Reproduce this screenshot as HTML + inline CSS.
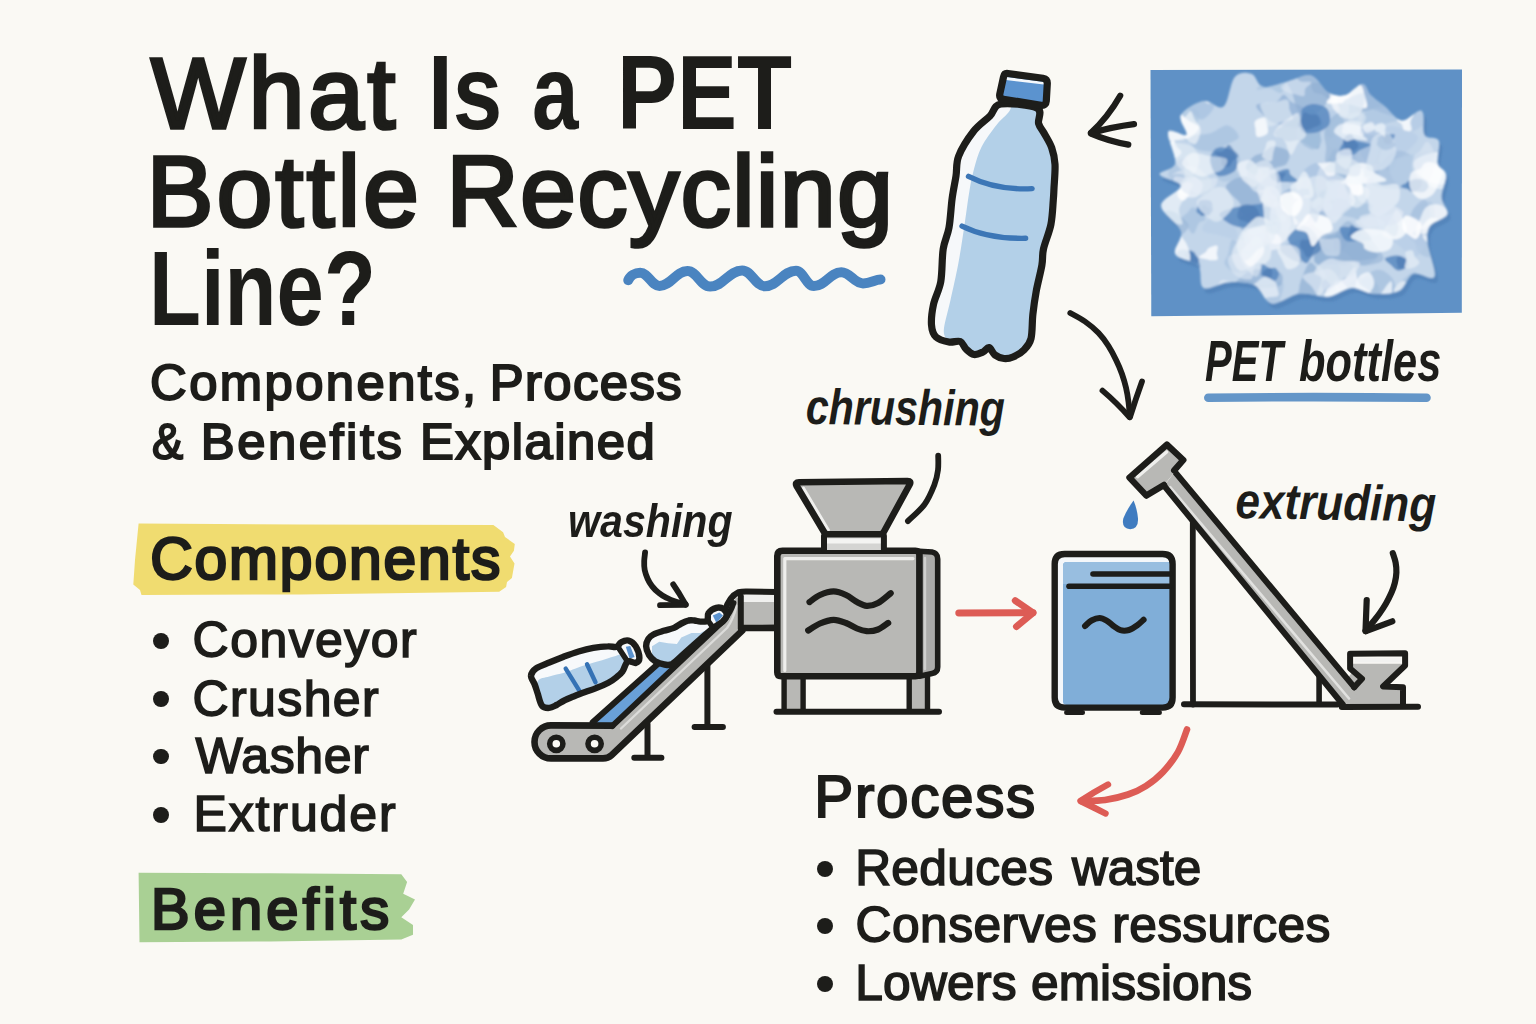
<!DOCTYPE html>
<html lang="en">
<head>
<meta charset="utf-8">
<title>What Is a PET Bottle Recycling Line? Components, Process &amp; Benefits Explained</title>
<style>
*{box-sizing:border-box;margin:0;padding:0}
html,body{width:1536px;height:1024px;overflow:hidden;background:#faf9f4}
body{position:relative;font-family:"Liberation Sans", Arial, Helvetica, sans-serif;color:#1d1d1a}
#art{position:absolute;left:0;top:0;width:1536px;height:1024px;display:block}
h1,h2,p,ul,li{font-weight:inherit;font-size:inherit;list-style:none}
.w{position:absolute;display:block;white-space:nowrap;line-height:1;transform-origin:0 0;color:#1d1d1a}
.dot{position:absolute;display:block;border-radius:50%;background:#1d1d1a}
.title .w{font-size:105.2px;font-weight:700;font-style:normal}
.sub .w{font-size:50.8px;font-weight:400;font-style:normal;-webkit-text-stroke:2px #1d1d1a}
.hc .w{font-size:58.7px;font-weight:400;font-style:normal;-webkit-text-stroke:2.6px #1d1d1a}
.lc .w{font-size:50px;font-weight:400;font-style:normal;-webkit-text-stroke:1.6px #1d1d1a}
.hb .w{font-size:57.8px;font-weight:400;font-style:normal;-webkit-text-stroke:2.6px #1d1d1a}
.hp .w{font-size:58.4px;font-weight:400;font-style:normal;-webkit-text-stroke:2px #1d1d1a}
.lp .w{font-size:49.7px;font-weight:400;font-style:normal;-webkit-text-stroke:1.6px #1d1d1a}
#lb-crush .w{font-size:50px;font-weight:700;font-style:italic}
#lb-wash .w{font-size:46px;font-weight:700;font-style:italic}
#lb-extr .w{font-size:50px;font-weight:700;font-style:italic}
#lb-pet .w{font-size:57px;font-weight:700;font-style:italic}
</style>
</head>
<body>
<svg id="art" viewBox="0 0 1536 1024" width="1536" height="1024" aria-hidden="true">
<g id="highlights"><path d="M138.6,523.4L300,524.6L493.4,525L503.1,532.2L505,537.1L514.8,543.9L513.9,550.8L510,556.6L514.5,563.5L511.9,578.1L507,582L506.1,586.9L499.2,591.8L300,594.5L141.5,594.9L140,590L133.3,584.5L135,560Z" fill="#f0dc70"/><path d="M138.6,872.7L270,873.2L401.3,874.2L407.1,882L403.2,893.8L415,899.6L409.1,909.4L401.3,917.2L413,925L413,934.8L401.3,939.6L270,941.4L139.5,942.2Z" fill="#a9d094"/></g>
<g id="wave"><path d="M628.3,280.2C630.1,275.8 635.2,272.8 640.2,272.8C648.3,272.8 651.4,285.9 659.5,285.9C671.2,285.9 675.7,271.1 687.4,271.1C696.9,271.1 700.5,286.6 710.1,286.6C723.5,286.6 728.7,270.4 742.2,270.4C751.7,270.4 755.3,286.2 764.8,286.2C777.9,286.2 782.9,270.8 796,270.8C803.5,270.8 806.4,286.1 813.9,286.1C825.4,286.1 829.8,272.3 841.3,272.3C850.4,272.3 853.9,283.4 863,283.4C870.3,283.4 875.3,279.5 880.5,279.5" fill="none" stroke="#4a84c0" stroke-width="10" stroke-linecap="round" stroke-linejoin="round"/></g>
<g id="photo"><defs><filter id="soft" x="-5%" y="-5%" width="110%" height="110%"><feGaussianBlur stdDeviation="0.9"/></filter><clipPath id="pc"><path d="M1150.5,70L1462,69.4L1461.8,312.8L1151.3,316.3Z"/></clipPath></defs><path d="M1150.5,70L1462,69.4L1461.8,312.8L1151.3,316.3Z" fill="#5f91c6"/><g clip-path="url(#pc)"><g filter="url(#soft)"><path d="M1234.8,76.9C1239.5,71.5 1247.1,72.4 1251.8,74.1C1256.5,75.7 1257,85.6 1263.1,86.8C1269.3,88 1280.6,83 1288.6,81.2C1296.6,79.3 1304.7,73.6 1311.3,75.5C1317.9,77.4 1322.6,89.2 1328.3,92.5C1333.9,95.8 1339.6,96.7 1345.3,95.3C1350.9,93.9 1358,84 1362.3,84C1366.5,84 1367,91.5 1370.8,95.3C1374.5,99.1 1379.7,102.4 1384.9,106.6C1390.1,110.9 1395.8,120.1 1401.9,120.8C1408,121.5 1418,108.5 1421.7,110.9C1425.5,113.3 1421.7,130 1424.6,135C1427.4,139.9 1436.6,135.9 1438.7,140.6C1440.9,145.4 1436.1,157.6 1437.3,163.3C1438.5,169 1445.1,169 1445.8,174.6C1446.5,180.3 1441.3,190.7 1441.6,197.3C1441.8,203.9 1449.1,209.6 1447.2,214.3C1445.3,219 1433.5,220.9 1430.2,225.6C1426.9,230.3 1426.7,234.1 1427.4,242.6C1428.1,251.1 1436.8,271.4 1434.5,276.6C1432.1,281.8 1419.1,271.4 1413.2,273.8C1407.3,276.1 1405.7,287.4 1399.1,290.8C1392.5,294.1 1381.6,294.1 1373.6,293.6C1365.6,293.1 1358.5,287.4 1350.9,287.9C1343.4,288.4 1336.8,295.5 1328.3,296.4C1319.8,297.4 1309.4,292.4 1299.9,293.6C1290.5,294.8 1279.2,304.9 1271.6,303.5C1264.1,302.1 1261.7,288.6 1254.6,285.1C1247.5,281.5 1237.6,281.8 1229.1,282.3C1220.6,282.7 1208.8,290.8 1203.6,287.9C1198.4,285.1 1202.7,270.9 1198,265.3C1193.3,259.6 1178.2,259.6 1175.3,253.9C1172.5,248.3 1183.3,239.3 1181,231.3C1178.6,223.2 1161.2,213.3 1161.2,205.8C1161.2,198.2 1181.2,191.1 1181,186C1180.7,180.8 1160.7,178.4 1159.7,174.6C1158.8,170.8 1173.9,170.4 1175.3,163.3C1176.7,156.2 1166.3,136.9 1168.2,132.1C1170.1,127.4 1184.5,137.8 1186.6,135C1188.8,132.1 1178.2,120.8 1181,115.1C1183.8,109.5 1196.6,102.4 1203.6,101C1210.7,99.6 1218.3,110.7 1223.5,106.6C1228.7,102.6 1230.1,82.3 1234.8,76.9Z" fill="#4a7bb2" fill-opacity="0.55" transform="translate(3,5)"/><path d="M1234.8,76.9C1239.5,71.5 1247.1,72.4 1251.8,74.1C1256.5,75.7 1257,85.6 1263.1,86.8C1269.3,88 1280.6,83 1288.6,81.2C1296.6,79.3 1304.7,73.6 1311.3,75.5C1317.9,77.4 1322.6,89.2 1328.3,92.5C1333.9,95.8 1339.6,96.7 1345.3,95.3C1350.9,93.9 1358,84 1362.3,84C1366.5,84 1367,91.5 1370.8,95.3C1374.5,99.1 1379.7,102.4 1384.9,106.6C1390.1,110.9 1395.8,120.1 1401.9,120.8C1408,121.5 1418,108.5 1421.7,110.9C1425.5,113.3 1421.7,130 1424.6,135C1427.4,139.9 1436.6,135.9 1438.7,140.6C1440.9,145.4 1436.1,157.6 1437.3,163.3C1438.5,169 1445.1,169 1445.8,174.6C1446.5,180.3 1441.3,190.7 1441.6,197.3C1441.8,203.9 1449.1,209.6 1447.2,214.3C1445.3,219 1433.5,220.9 1430.2,225.6C1426.9,230.3 1426.7,234.1 1427.4,242.6C1428.1,251.1 1436.8,271.4 1434.5,276.6C1432.1,281.8 1419.1,271.4 1413.2,273.8C1407.3,276.1 1405.7,287.4 1399.1,290.8C1392.5,294.1 1381.6,294.1 1373.6,293.6C1365.6,293.1 1358.5,287.4 1350.9,287.9C1343.4,288.4 1336.8,295.5 1328.3,296.4C1319.8,297.4 1309.4,292.4 1299.9,293.6C1290.5,294.8 1279.2,304.9 1271.6,303.5C1264.1,302.1 1261.7,288.6 1254.6,285.1C1247.5,281.5 1237.6,281.8 1229.1,282.3C1220.6,282.7 1208.8,290.8 1203.6,287.9C1198.4,285.1 1202.7,270.9 1198,265.3C1193.3,259.6 1178.2,259.6 1175.3,253.9C1172.5,248.3 1183.3,239.3 1181,231.3C1178.6,223.2 1161.2,213.3 1161.2,205.8C1161.2,198.2 1181.2,191.1 1181,186C1180.7,180.8 1160.7,178.4 1159.7,174.6C1158.8,170.8 1173.9,170.4 1175.3,163.3C1176.7,156.2 1166.3,136.9 1168.2,132.1C1170.1,127.4 1184.5,137.8 1186.6,135C1188.8,132.1 1178.2,120.8 1181,115.1C1183.8,109.5 1196.6,102.4 1203.6,101C1210.7,99.6 1218.3,110.7 1223.5,106.6C1228.7,102.6 1230.1,82.3 1234.8,76.9Z" fill="#c3d6ea"/><clipPath id="sc"><path d="M1234.8,76.9C1239.5,71.5 1247.1,72.4 1251.8,74.1C1256.5,75.7 1257,85.6 1263.1,86.8C1269.3,88 1280.6,83 1288.6,81.2C1296.6,79.3 1304.7,73.6 1311.3,75.5C1317.9,77.4 1322.6,89.2 1328.3,92.5C1333.9,95.8 1339.6,96.7 1345.3,95.3C1350.9,93.9 1358,84 1362.3,84C1366.5,84 1367,91.5 1370.8,95.3C1374.5,99.1 1379.7,102.4 1384.9,106.6C1390.1,110.9 1395.8,120.1 1401.9,120.8C1408,121.5 1418,108.5 1421.7,110.9C1425.5,113.3 1421.7,130 1424.6,135C1427.4,139.9 1436.6,135.9 1438.7,140.6C1440.9,145.4 1436.1,157.6 1437.3,163.3C1438.5,169 1445.1,169 1445.8,174.6C1446.5,180.3 1441.3,190.7 1441.6,197.3C1441.8,203.9 1449.1,209.6 1447.2,214.3C1445.3,219 1433.5,220.9 1430.2,225.6C1426.9,230.3 1426.7,234.1 1427.4,242.6C1428.1,251.1 1436.8,271.4 1434.5,276.6C1432.1,281.8 1419.1,271.4 1413.2,273.8C1407.3,276.1 1405.7,287.4 1399.1,290.8C1392.5,294.1 1381.6,294.1 1373.6,293.6C1365.6,293.1 1358.5,287.4 1350.9,287.9C1343.4,288.4 1336.8,295.5 1328.3,296.4C1319.8,297.4 1309.4,292.4 1299.9,293.6C1290.5,294.8 1279.2,304.9 1271.6,303.5C1264.1,302.1 1261.7,288.6 1254.6,285.1C1247.5,281.5 1237.6,281.8 1229.1,282.3C1220.6,282.7 1208.8,290.8 1203.6,287.9C1198.4,285.1 1202.7,270.9 1198,265.3C1193.3,259.6 1178.2,259.6 1175.3,253.9C1172.5,248.3 1183.3,239.3 1181,231.3C1178.6,223.2 1161.2,213.3 1161.2,205.8C1161.2,198.2 1181.2,191.1 1181,186C1180.7,180.8 1160.7,178.4 1159.7,174.6C1158.8,170.8 1173.9,170.4 1175.3,163.3C1176.7,156.2 1166.3,136.9 1168.2,132.1C1170.1,127.4 1184.5,137.8 1186.6,135C1188.8,132.1 1178.2,120.8 1181,115.1C1183.8,109.5 1196.6,102.4 1203.6,101C1210.7,99.6 1218.3,110.7 1223.5,106.6C1228.7,102.6 1230.1,82.3 1234.8,76.9Z"/></clipPath><g clip-path="url(#sc)"><path d="M1302.9,220.1C1294.8,222.1 1284.9,223.3 1277.4,221.2C1269.8,219.1 1257.5,211.7 1257.6,207.4C1257.8,203.1 1272.6,198.7 1278.4,195.5C1284.3,192.3 1288.1,187.9 1292.6,188.1C1297.2,188.2 1300.4,192.7 1305.9,196.3C1311.4,199.8 1326.2,205.2 1325.7,209.2C1325.2,213.2 1310.9,218.1 1302.9,220.1Z" fill="#8eaed3" fill-opacity="0.61"/><path d="M1335,70.3C1338.8,67.8 1354.3,74.4 1360.4,76.5C1366.4,78.5 1366.3,78.9 1371.4,82.6C1376.6,86.2 1391.8,93.5 1391.3,98.1C1390.8,102.8 1376.5,108.4 1368.3,110.6C1360.1,112.8 1347.2,114.7 1342.1,111.5C1336.9,108.3 1338.4,98.3 1337.2,91.4C1336.1,84.5 1331.1,72.8 1335,70.3Z" fill="#8eaed3" fill-opacity="0.68"/><path d="M1322.3,113.8C1325.2,112.2 1328,110.8 1331.9,110.3C1335.8,109.9 1344.3,109.2 1345.7,111.2C1347,113.2 1341,119.5 1340,122.4C1339.1,125.3 1341,126 1340.1,128.5C1339.3,131 1337.8,136.5 1335,137.4C1332.2,138.4 1325.6,136 1323.5,134C1321.3,132.1 1323.5,128.3 1322,125.9C1320.5,123.5 1314.4,121.5 1314.5,119.5C1314.5,117.5 1319.4,115.3 1322.3,113.8Z" fill="#b7cde6" fill-opacity="0.62"/><path d="M1201.6,119.6C1197.3,119.8 1191.7,111.7 1188.2,108.6C1184.8,105.4 1180.4,103.8 1180.9,100.7C1181.4,97.6 1186.7,90.8 1191.2,90.1C1195.7,89.3 1204.2,93.3 1208,96.2C1211.8,99.1 1215,103.4 1213.9,107.3C1212.9,111.2 1205.8,119.4 1201.6,119.6Z" fill="#a9c3e0" fill-opacity="0.79"/><path d="M1236.3,238.9C1233.5,240.2 1223.3,236.1 1217.7,234.8C1212.2,233.4 1204.4,233.3 1202.9,230.8C1201.3,228.3 1204.3,222.3 1208.5,219.8C1212.8,217.3 1223.9,214.4 1228.3,215.5C1232.7,216.7 1233.5,222.9 1234.8,226.8C1236.2,230.7 1239.2,237.5 1236.3,238.9Z" fill="#b7cde6" fill-opacity="0.57"/><path d="M1317.2,295.9C1318,302.1 1326.9,309.9 1326.2,315.5C1325.6,321.2 1317.9,329 1313.3,329.8C1308.8,330.5 1303.8,323.1 1299,319.9C1294.1,316.7 1284.4,315 1284.2,310.5C1284,306 1295.1,297.6 1297.8,292.9C1300.5,288.2 1298.4,287.5 1300.4,282.4C1302.5,277.3 1306.8,263.2 1310.3,262.6C1313.8,262 1320.2,273.2 1321.4,278.8C1322.5,284.4 1316.4,289.8 1317.2,295.9Z" fill="#8eaed3" fill-opacity="0.68"/><path d="M1332.9,80.9C1334.9,81.7 1334.8,85.4 1335.4,87.4C1335.9,89.5 1336.8,90.9 1336.1,93.1C1335.4,95.3 1333.4,100.5 1331.1,100.7C1328.7,101 1325.2,96.1 1322.3,94.6C1319.4,93.1 1315.4,93.7 1313.7,91.9C1311.9,90 1310.2,85.1 1311.8,83.6C1313.5,82 1320.1,82.9 1323.6,82.4C1327.1,82 1331,80 1332.9,80.9Z" fill="#8eaed3" fill-opacity="0.54"/><path d="M1332.8,253C1335.2,255.4 1335.8,257.2 1337,260.6C1338.1,264 1341.1,269.9 1339.9,273.6C1338.6,277.3 1332.4,283.6 1329.6,283C1326.8,282.3 1325.7,273.8 1323.1,269.8C1320.5,265.8 1314.3,263.1 1314.2,259.1C1314.1,255.2 1319.5,247.1 1322.6,246.1C1325.7,245.1 1330.4,250.6 1332.8,253Z" fill="#8eaed3" fill-opacity="0.51"/><path d="M1333.1,189.5C1330.3,189 1327,185.7 1325.5,183.2C1324.1,180.6 1324.4,176.7 1324.7,174.1C1324.9,171.5 1326.2,170.4 1327,167.7C1327.9,165 1328.2,158.2 1329.7,157.8C1331.3,157.4 1334.5,163.6 1336.4,165.3C1338.4,167 1339.9,166.4 1341.3,168.2C1342.8,169.9 1345.1,172.7 1345.3,175.7C1345.6,178.7 1344.8,184 1342.8,186.3C1340.7,188.6 1336,190 1333.1,189.5Z" fill="#a9c3e0" fill-opacity="0.63"/><path d="M1326.1,147.1C1325.8,141.6 1323.9,139.3 1324.3,135C1324.8,130.6 1326,124.6 1328.6,121.1C1331.3,117.5 1337.4,112.1 1340.4,113.6C1343.3,115.1 1344.3,125.5 1346.5,130.2C1348.6,134.9 1351.6,136 1353.1,141.8C1354.7,147.7 1357.9,158.8 1355.9,165.1C1353.9,171.3 1346.2,178.9 1341.2,179.4C1336.2,179.8 1328.5,173.3 1326,168C1323.5,162.6 1326.3,152.6 1326.1,147.1Z" fill="#9bb8d9" fill-opacity="0.71"/><path d="M1352.6,192.3C1354.4,191.8 1358.3,200.4 1361.6,202.4C1364.9,204.4 1370.8,202.5 1372.1,204.5C1373.4,206.4 1371.1,211.1 1369.6,214.1C1368,217.1 1365.7,221.9 1362.9,222.5C1360.2,223.1 1356.9,219 1353.1,217.6C1349.4,216.2 1340.6,216 1340.2,213.9C1339.9,211.8 1348.9,208.7 1351,205.1C1353,201.5 1350.8,192.7 1352.6,192.3Z" fill="#a9c3e0" fill-opacity="0.77"/><path d="M1341.2,250.9C1336.8,253.5 1329.2,250.9 1322.1,252.8C1315.1,254.7 1306.1,262.9 1299.2,262.1C1292.2,261.4 1279.4,252.5 1280.2,248.3C1281,244.1 1298.7,240.8 1303.9,236.9C1309,233.1 1307.2,225.7 1310.9,225.1C1314.5,224.5 1319.6,231.5 1325.9,233.5C1332.2,235.5 1346.1,234.2 1348.7,237.1C1351.2,240 1345.6,248.3 1341.2,250.9Z" fill="#9bb8d9" fill-opacity="0.73"/><path d="M1269.5,74.7C1273.2,74.2 1278.3,72.6 1281.2,73.5C1284.1,74.3 1286.3,77.7 1286.9,79.8C1287.5,81.8 1285.8,83.7 1284.7,86C1283.7,88.2 1283.2,92.7 1280.6,93.1C1278.1,93.5 1273.4,88.9 1269.4,88.3C1265.4,87.7 1257.9,90.5 1256.8,89.5C1255.6,88.6 1262.2,84.8 1262.6,82.5C1263,80.3 1258,77.4 1259.1,76.1C1260.3,74.8 1265.9,75.1 1269.5,74.7Z" fill="#a9c3e0" fill-opacity="0.67"/><path d="M1299.2,140.5C1294.2,139.1 1291.6,142.4 1287.5,141.2C1283.3,140.1 1274.6,136.3 1274.3,133.4C1274,130.5 1282.5,126.3 1285.9,123.9C1289.3,121.5 1290.7,121.5 1294.9,119C1299.1,116.5 1306.5,108.4 1311,108.8C1315.6,109.2 1320.5,117.2 1322.1,121.4C1323.6,125.6 1320.9,129.5 1320.2,134.1C1319.6,138.7 1321.5,148 1318,149.1C1314.5,150.2 1304.3,141.8 1299.2,140.5Z" fill="#8eaed3" fill-opacity="0.72"/><path d="M1267.2,219.6C1270.2,222.3 1274.1,225.7 1273.5,228.3C1272.9,230.8 1266.9,233.8 1263.5,234.7C1260.1,235.6 1256.6,234.4 1253.1,233.6C1249.5,232.8 1244.2,232.4 1242,229.9C1239.8,227.3 1237.8,221.3 1240,218.3C1242.2,215.3 1250.8,211.5 1255.3,211.7C1259.8,212 1264.1,216.8 1267.2,219.6Z" fill="#8eaed3" fill-opacity="0.73"/><path d="M1370.2,278.2C1373.4,279.6 1377.5,283.1 1378.6,286.7C1379.6,290.3 1379.1,296.5 1376.4,299.6C1373.8,302.8 1367.4,305.5 1362.7,305.4C1357.9,305.4 1350.4,302.8 1347.9,299.4C1345.5,295.9 1346.1,288.2 1347.9,284.7C1349.8,281.2 1355.3,279.4 1359,278.3C1362.7,277.2 1366.9,276.8 1370.2,278.2Z" fill="#9bb8d9" fill-opacity="0.49"/><path d="M1386.2,127.5C1390.6,124.6 1395.6,126.4 1400.9,128.1C1406.2,129.7 1417.2,133.2 1417.9,137.3C1418.7,141.5 1410.1,148.6 1405.2,153.1C1400.3,157.5 1393.7,165.1 1388.6,163.8C1383.5,162.4 1374.8,151.2 1374.4,145.1C1374,139.1 1381.8,130.3 1386.2,127.5Z" fill="#b7cde6" fill-opacity="0.65"/><path d="M1435.3,98.6C1439.6,97.5 1445.6,96.1 1448.1,97.4C1450.5,98.7 1450.8,104 1450,106.2C1449.1,108.4 1446,109.4 1442.9,110.6C1439.7,111.8 1434.5,114.4 1431.1,113.3C1427.6,112.2 1421.5,106.5 1422.2,104C1422.9,101.6 1431,99.7 1435.3,98.6Z" fill="#a2bedd" fill-opacity="0.68"/><path d="M1196.3,149C1192,146.6 1187.4,139 1189.7,136.3C1192,133.7 1204.1,135.1 1210.4,133.2C1216.8,131.4 1223,124.8 1227.7,125.4C1232.4,126 1239.1,133.6 1238.8,136.9C1238.5,140.1 1229.9,142.5 1226.1,144.8C1222.2,147.2 1220.7,150.4 1215.7,151.1C1210.8,151.8 1200.7,151.5 1196.3,149Z" fill="#a2bedd" fill-opacity="0.63"/><path d="M1321.8,284C1322.1,280.2 1327.4,277.9 1329.7,274.4C1331.9,270.9 1331.9,264.7 1335.5,262.9C1339,261.2 1347.3,261.8 1351,264.1C1354.7,266.3 1356.9,272.2 1357.8,276.4C1358.7,280.7 1359,287.1 1356.5,289.5C1353.9,291.9 1347.4,289.6 1342.7,290.9C1337.9,292.2 1331.7,298.4 1328.2,297.2C1324.7,296 1321.6,287.8 1321.8,284Z" fill="#a2bedd" fill-opacity="0.68"/><path d="M1431.1,302.8C1427.1,301.2 1419.6,297.3 1419.4,293.7C1419.1,290 1424.1,282.9 1429.7,280.6C1435.4,278.3 1448.4,277.1 1453.2,279.7C1458,282.4 1460.2,292.6 1458.6,296.4C1457,300.3 1448.1,302 1443.5,303C1438.9,304.1 1435.2,304.3 1431.1,302.8Z" fill="#b7cde6" fill-opacity="0.54"/><path d="M1357.1,98.9C1355,93.4 1360.6,81.8 1366.4,77.9C1372.3,74 1384.1,74.9 1391.9,75.5C1399.7,76.2 1409.7,77.7 1413.2,81.6C1416.7,85.4 1414.4,92.8 1412.8,98.6C1411.2,104.4 1409.3,114.4 1403.7,116.5C1398,118.6 1386.7,114.3 1379,111.4C1371.2,108.4 1359.1,104.5 1357.1,98.9Z" fill="#9bb8d9" fill-opacity="0.64"/><path d="M1333,244.1C1333,240.8 1342.4,235.4 1347.4,234C1352.5,232.6 1358.9,234.3 1363.3,235.8C1367.6,237.3 1371.3,239.4 1373.8,242.9C1376.3,246.5 1380.5,253.2 1378.2,257C1375.8,260.7 1364.8,266.2 1359.7,265.7C1354.5,265.2 1351.7,257.4 1347.3,253.8C1342.8,250.2 1333,247.4 1333,244.1Z" fill="#a2bedd" fill-opacity="0.55"/><path d="M1383.4,292.7C1384.5,288.1 1392.3,287.7 1397.6,284.3C1402.9,280.8 1411.6,270.5 1415.3,272.1C1419.1,273.6 1421.1,287.6 1420.3,293.4C1419.4,299.2 1415.1,303.8 1410.2,306.9C1405.3,309.9 1395.5,314.2 1391,311.8C1386.6,309.5 1382.3,297.3 1383.4,292.7Z" fill="#a2bedd" fill-opacity="0.62"/><path d="M1320.1,206.4C1316.5,204.9 1315.4,199.6 1312.7,196.7C1309.9,193.8 1305.4,192.9 1303.6,189C1301.8,185.1 1299.8,177.8 1301.9,173.5C1304,169.1 1311.4,163.3 1316.3,163C1321.2,162.7 1327.8,168.4 1331.4,171.5C1335,174.6 1337.1,178.4 1337.9,181.8C1338.8,185.2 1337,188.1 1336.4,192C1335.9,196 1337.3,203.2 1334.6,205.6C1331.9,208 1323.8,207.9 1320.1,206.4Z" fill="#a9c3e0" fill-opacity="0.78"/><path d="M1417.4,90.2C1420.9,87.9 1428.5,88.6 1432.8,92.2C1437.1,95.8 1443.9,106.7 1443.1,111.8C1442.2,116.9 1433.3,119.3 1427.8,122.5C1422.2,125.7 1412.7,133.7 1410,131C1407.3,128.3 1410.1,113.3 1411.3,106.5C1412.5,99.7 1413.8,92.6 1417.4,90.2Z" fill="#a9c3e0" fill-opacity="0.46"/><path d="M1313.3,119C1315.3,119.7 1316.8,124.8 1318.2,128.5C1319.6,132.3 1322.3,138 1321.6,141.5C1320.9,144.9 1316.4,148.3 1314,149.3C1311.5,150.3 1308.9,148.3 1306.9,147.3C1304.9,146.3 1303.7,145.3 1302,143.5C1300.3,141.6 1297.3,139.2 1296.7,136C1296.2,132.8 1297,126.4 1298.6,124.5C1300.2,122.5 1303.8,125.2 1306.3,124.3C1308.7,123.4 1311.3,118.3 1313.3,119Z" fill="#a2bedd" fill-opacity="0.76"/><path d="M1424.5,240.6C1421,242.5 1410.1,238.3 1407.8,234.5C1405.4,230.7 1409.6,222.2 1410.5,217.9C1411.5,213.5 1411.2,211.5 1413.6,208.4C1415.9,205.4 1421.8,198.9 1424.6,199.7C1427.5,200.4 1430.1,209.2 1430.7,213C1431.4,216.8 1429.7,218.2 1428.6,222.8C1427.6,227.4 1428,238.6 1424.5,240.6Z" fill="#9bb8d9" fill-opacity="0.56"/><path d="M1417.6,184C1413.4,188.2 1403.6,189.1 1395.7,189C1387.9,188.8 1373,187.3 1370.5,183C1368,178.8 1375.8,168.9 1380.7,163.5C1385.5,158.1 1392.8,150.8 1399.5,150.8C1406.2,150.9 1417.7,158.3 1420.7,163.8C1423.7,169.3 1421.7,179.8 1417.6,184Z" fill="#9bb8d9" fill-opacity="0.52"/><path d="M1269,314.7C1266.2,317 1264.7,317.3 1260.9,319C1257.1,320.7 1250.2,327.2 1246.2,324.8C1242.2,322.3 1237.7,311.9 1236.9,304.4C1236.1,297 1237.9,283.6 1241.4,280.1C1245,276.7 1254.2,282.9 1258.2,283.7C1262.2,284.5 1261.4,285.1 1265.6,284.9C1269.7,284.8 1281,279.5 1283,282.9C1285.1,286.3 1280.1,300 1277.8,305.3C1275.5,310.6 1271.8,312.4 1269,314.7Z" fill="#a9c3e0" fill-opacity="0.62"/><path d="M1396.3,153.7C1397.1,158.2 1394.4,168.4 1391.3,170.3C1388.2,172.2 1381.7,166.2 1377.7,165.1C1373.7,163.9 1370.4,165.8 1367.5,163.3C1364.6,160.8 1360,154.1 1360.3,150C1360.7,146 1366.5,140.9 1369.7,139C1372.9,137.1 1376.7,137.8 1379.5,138.5C1382.3,139.3 1383.9,141 1386.7,143.5C1389.5,146.1 1395.6,149.3 1396.3,153.7Z" fill="#a2bedd" fill-opacity="0.57"/><path d="M1313.7,65.2C1319.7,67.8 1330,64.3 1332.9,69C1335.8,73.8 1333.4,86.5 1331.1,93.5C1328.8,100.5 1324.2,107.9 1319,111.2C1313.8,114.4 1304.4,116.1 1300,113.1C1295.5,110 1294.9,99.8 1292.1,93C1289.4,86.2 1282.5,78.7 1283.4,72.1C1284.2,65.6 1292.2,54.8 1297.2,53.6C1302.3,52.4 1307.8,62.6 1313.7,65.2Z" fill="#8eaed3" fill-opacity="0.65"/><path d="M1355.4,262.8C1350.6,262.3 1340.7,266.6 1337.2,262.5C1333.7,258.4 1332.5,245.2 1334.3,238.3C1336.2,231.4 1343.4,221.4 1348.1,220.9C1352.9,220.5 1358.6,232.5 1362.6,235.8C1366.7,239.1 1368.7,236.8 1372.2,240.7C1375.7,244.6 1384.6,254.9 1383.5,259.1C1382.5,263.3 1370.5,265 1365.8,265.6C1361.1,266.3 1360.2,263.3 1355.4,262.8Z" fill="#8eaed3" fill-opacity="0.52"/><path d="M1219.7,157.5C1224.4,156.1 1236.9,155.5 1239.6,157.4C1242.3,159.3 1235.9,165.5 1235.8,168.9C1235.7,172.2 1241,175.3 1238.9,177.4C1236.8,179.5 1227.2,182.1 1223.1,181.4C1219.1,180.8 1216.5,175.9 1214.6,173.3C1212.6,170.8 1210.7,168.7 1211.6,166.1C1212.4,163.4 1215.1,159 1219.7,157.5Z" fill="#a9c3e0" fill-opacity="0.59"/><path d="M1166.1,117.8C1166.9,113 1167.6,104 1170.7,102.1C1173.8,100.2 1180.1,104.6 1184.8,106.3C1189.5,108 1196.9,108.4 1198.7,112.2C1200.5,115.9 1197.3,123.8 1195.6,128.8C1193.9,133.7 1191.5,141.1 1188.5,141.8C1185.4,142.5 1181,134.6 1177.2,132.8C1173.5,131 1167.8,133.7 1165.9,131.2C1164.1,128.7 1165.3,122.7 1166.1,117.8Z" fill="#a9c3e0" fill-opacity="0.54"/><path d="M1346.7,85C1347.6,81.7 1356.1,78.5 1361.6,76.5C1367,74.4 1374.3,72 1379.6,72.6C1385,73.1 1389.7,77.3 1393.6,79.9C1397.6,82.6 1402.8,85.5 1403.3,88.6C1403.8,91.6 1399.9,95.2 1396.8,98.3C1393.7,101.4 1390,106.1 1384.7,107.3C1379.4,108.5 1369.7,107.5 1365,105.6C1360.2,103.6 1359.2,99.2 1356.2,95.8C1353.2,92.4 1345.8,88.2 1346.7,85Z" fill="#9bb8d9" fill-opacity="0.59"/><path d="M1412.9,211C1417.3,206.2 1427.3,199.7 1431.1,201.7C1434.8,203.7 1434.8,216.9 1435.4,223.2C1436,229.5 1437.5,236 1434.9,239.6C1432.2,243.2 1424.2,246.4 1419.2,245C1414.2,243.5 1405.9,236.6 1404.8,230.9C1403.8,225.3 1408.5,215.9 1412.9,211Z" fill="#a9c3e0" fill-opacity="0.45"/><path d="M1380.4,153.9C1378.6,160.1 1382.1,170.6 1377.5,173.9C1372.8,177.3 1356.8,177.7 1352.6,174.1C1348.4,170.5 1353.8,159.6 1352.4,152.5C1351,145.3 1341.8,134.2 1344.4,131.3C1347,128.3 1360.8,133.9 1368,134.7C1375.3,135.6 1385.9,133.4 1388,136.6C1390,139.8 1382.1,147.6 1380.4,153.9Z" fill="#9bb8d9" fill-opacity="0.60"/><path d="M1168.4,177.4C1167.9,173.4 1169.1,168.9 1170.6,166.2C1172,163.5 1174.7,162.8 1177,161.4C1179.4,160.1 1182.7,157.1 1184.8,158.1C1186.9,159.1 1188.1,163.7 1189.4,167.2C1190.6,170.7 1193.2,176 1192.3,179C1191.3,182 1187,183.4 1183.9,185.2C1180.8,187.1 1176.2,191.5 1173.6,190.2C1171,188.9 1168.9,181.4 1168.4,177.4Z" fill="#a9c3e0" fill-opacity="0.57"/><path d="M1428.6,257.2C1425.2,257 1420.2,254.8 1418.1,251.8C1415.9,248.7 1414.3,242 1415.5,238.9C1416.7,235.8 1422.4,234.5 1425.2,233.1C1428,231.6 1430.2,229.7 1432.5,230.1C1434.8,230.4 1436.2,232.6 1439,235C1441.8,237.4 1449.1,241.6 1449.1,244.7C1449,247.7 1442,251.2 1438.6,253.3C1435.2,255.3 1432,257.5 1428.6,257.2Z" fill="#a9c3e0" fill-opacity="0.63"/><path d="M1339.2,113.7C1343,109.2 1349,101.2 1352.2,102.1C1355.4,103.1 1357.7,114.6 1358.3,119.6C1358.9,124.7 1358.3,127.9 1355.7,132.4C1353,136.8 1346.7,147.1 1342.3,146.5C1337.9,145.9 1329.9,134.5 1329.4,129C1328.8,123.5 1335.4,118.1 1339.2,113.7Z" fill="#a9c3e0" fill-opacity="0.45"/><path d="M1347.2,153.6C1350.1,155.8 1351.3,157 1353,160.9C1354.7,164.7 1359.7,173.4 1357.4,176.5C1355.1,179.7 1345.1,180.5 1339.3,179.8C1333.6,179.2 1324.7,176.4 1323,172.8C1321.3,169.2 1326.9,162.3 1329,158.2C1331.2,154.1 1332.9,148.7 1335.9,148C1339,147.2 1344.4,151.5 1347.2,153.6Z" fill="#9bb8d9" fill-opacity="0.57"/><path d="M1224.6,263.8C1223.6,260.8 1226.8,258.3 1228.1,254.2C1229.5,250.2 1230,240 1232.7,239.5C1235.4,239 1241.6,248 1244.2,251.1C1246.8,254.2 1247.4,255 1248.2,258.1C1249,261.3 1251.1,267.7 1248.8,270C1246.4,272.3 1238.2,273.1 1234.2,272C1230.2,271 1225.6,266.7 1224.6,263.8Z" fill="#a2bedd" fill-opacity="0.56"/><path d="M1347.8,130.4C1356.1,128.4 1372.1,127.3 1377.1,130.3C1382.2,133.3 1379.5,142.2 1378,148.2C1376.6,154.2 1373.9,165.3 1368.2,166.4C1362.5,167.6 1350.8,159.1 1344,155.1C1337.2,151.1 1326.9,146.6 1327.6,142.4C1328.2,138.3 1339.6,132.4 1347.8,130.4Z" fill="#a9c3e0" fill-opacity="0.56"/><path d="M1234.9,285.1C1233.6,282.9 1240,278.1 1242.7,275.6C1245.3,273.1 1247.5,271.3 1251,270.2C1254.4,269.2 1258.5,269 1263.5,269.5C1268.5,270 1278.1,270.5 1280.9,273.2C1283.7,275.8 1283.3,283.1 1280.3,285.5C1277.2,288 1267.4,287.3 1262.4,287.9C1257.5,288.4 1255.2,289.4 1250.6,288.9C1246,288.5 1236.3,287.3 1234.9,285.1Z" fill="#8eaed3" fill-opacity="0.65"/><path d="M1273.2,146.6C1277.6,146.3 1286.6,148.8 1288.8,151.7C1291,154.6 1288.8,161.3 1286.3,164.1C1283.8,166.9 1278,166.5 1273.8,168.4C1269.6,170.4 1265.7,175.8 1261,175.8C1256.3,175.8 1247.1,171.6 1245.8,168.4C1244.6,165.2 1250.6,159.3 1253.4,156.8C1256.2,154.2 1259.3,154.8 1262.6,153.1C1265.9,151.4 1268.8,146.8 1273.2,146.6Z" fill="#8eaed3" fill-opacity="0.73"/><path d="M1293.8,193.6C1296.4,190 1303.9,184.2 1309.2,184.2C1314.4,184.1 1322.7,189.7 1325.2,193.3C1327.7,196.8 1327,202.9 1324.3,205.6C1321.7,208.3 1314.6,209.3 1309.5,209.4C1304.4,209.5 1296.4,208.7 1293.8,206C1291.2,203.4 1291.3,197.3 1293.8,193.6Z" fill="#a9c3e0" fill-opacity="0.68"/><path d="M1174.1,211.9C1176.7,212.7 1178,214.3 1180.4,216.6C1182.8,218.8 1188.5,222.3 1188.7,225.5C1188.8,228.7 1184,233.6 1181.3,235.5C1178.5,237.4 1175,237.4 1172.2,236.9C1169.4,236.4 1166.5,234.9 1164.5,232.5C1162.5,230.1 1160.1,225.8 1160.2,222.3C1160.2,218.9 1162.6,213.5 1164.9,211.7C1167.3,210 1171.5,211.1 1174.1,211.9Z" fill="#8eaed3" fill-opacity="0.54"/><path d="M1447.8,154.4C1453,158.2 1451.2,171.5 1447.3,177.1C1443.5,182.7 1433.3,186.9 1424.9,188.1C1416.6,189.2 1403,188 1397.2,183.8C1391.4,179.6 1386.8,167.7 1389.9,162.7C1393.1,157.8 1406.6,155.6 1416.2,154.2C1425.9,152.8 1442.6,150.5 1447.8,154.4Z" fill="#b7cde6" fill-opacity="0.75"/><path d="M1268.8,119.9C1265.2,116.8 1255,108.5 1256.2,105.5C1257.3,102.5 1271.2,103.8 1275.8,102C1280.4,100.2 1281.1,94.8 1283.7,94.8C1286.3,94.8 1288.1,99.7 1291.6,102.1C1295,104.5 1302.7,105.2 1304.6,109.3C1306.5,113.3 1306,123.5 1303.1,126.4C1300.1,129.2 1291.1,126.9 1286.9,126.5C1282.8,126.1 1281.3,125.1 1278.3,124C1275.3,122.9 1272.5,123 1268.8,119.9Z" fill="#8eaed3" fill-opacity="0.69"/><path d="M1296.7,227C1291,228.4 1284.5,235.4 1280.4,233.2C1276.4,231 1272.2,219.8 1272.3,214C1272.4,208.1 1277.9,202.1 1280.9,198.2C1284,194.4 1287,192.1 1290.6,191C1294.2,190 1299.6,189.5 1302.4,191.8C1305.2,194.1 1305.5,199.4 1307.4,204.9C1309.4,210.5 1315.9,221.5 1314.1,225.2C1312.3,228.9 1302.3,225.7 1296.7,227Z" fill="#a9c3e0" fill-opacity="0.56"/><path d="M1268.9,191.7C1271.6,195.1 1274.6,198.9 1275.3,204C1276,209 1276.6,219.4 1272.9,222.1C1269.2,224.9 1258.1,222.2 1253,220.5C1247.9,218.9 1244.4,215.4 1242.2,212.4C1240,209.5 1242.4,207.2 1239.7,202.9C1237,198.6 1225.3,191.2 1225.8,186.8C1226.3,182.5 1237.2,177.2 1242.7,176.6C1248.3,176.1 1254.8,180.9 1259.1,183.4C1263.5,186 1266.2,188.3 1268.9,191.7Z" fill="#8eaed3" fill-opacity="0.75"/><path d="M1325.2,178.5C1327.7,181.4 1326.4,192.8 1324.8,197.2C1323.1,201.7 1318.8,204 1315.4,205.1C1311.9,206.2 1307.4,206.6 1304.1,203.7C1300.8,200.9 1294.9,192.3 1295.8,188.2C1296.7,184.2 1304.6,181.3 1309.5,179.6C1314.4,178 1322.6,175.5 1325.2,178.5Z" fill="#a9c3e0" fill-opacity="0.68"/><path d="M1365,110.7C1365,106.4 1360.2,98.3 1363.1,96.2C1366,94.1 1377.1,97.2 1382.5,98.3C1387.9,99.5 1389.9,100.3 1395.5,103C1401.1,105.7 1416.7,111.3 1416.1,114.4C1415.5,117.6 1398.1,120.3 1391.9,122C1385.7,123.6 1383.7,124.4 1378.9,124.5C1374,124.6 1365.4,124.6 1363.1,122.3C1360.8,120 1365,115 1365,110.7Z" fill="#a2bedd" fill-opacity="0.50"/><path d="M1355.5,197.8C1354,201.5 1352.2,203.5 1348.5,206.9C1344.9,210.2 1339.5,217.1 1333.3,217.8C1327.2,218.4 1315,214.6 1311.5,210.6C1308.1,206.7 1310,197.9 1312.6,194C1315.3,190.2 1323,190 1327.5,187.5C1332.1,185 1334.8,179.4 1339.8,179C1344.7,178.5 1354.5,181.5 1357.2,184.6C1359.8,187.8 1356.9,194.1 1355.5,197.8Z" fill="#8eaed3" fill-opacity="0.48"/><path d="M1424.8,283.8C1427.2,283.1 1428.8,282.3 1430.7,282.6C1432.6,282.8 1434.1,283.7 1436.5,285.3C1439,286.9 1444.5,289.1 1445.3,292.1C1446.2,295.2 1443.8,300.5 1441.6,303.6C1439.4,306.7 1435.6,309.8 1432.1,310.7C1428.5,311.6 1422.2,311.4 1420.3,308.9C1418.3,306.3 1421,299.2 1420.4,295.6C1419.7,291.9 1415.8,288.9 1416.6,287C1417.3,285 1422.5,284.5 1424.8,283.8Z" fill="#8eaed3" fill-opacity="0.48"/><path d="M1420.1,219.8C1424.9,223.8 1427.4,233.1 1426.5,239.4C1425.7,245.6 1419.4,256.1 1414.8,257.1C1410.2,258.2 1403.4,249.3 1398.7,245.4C1394.1,241.6 1387.3,239 1387.1,234C1386.8,229 1391.7,217.9 1397.2,215.6C1402.7,213.2 1415.2,215.9 1420.1,219.8Z" fill="#b7cde6" fill-opacity="0.65"/><path d="M1365.6,299.9C1362.8,296.3 1358.7,291.8 1358.9,287.7C1359,283.5 1362.9,278 1366.5,275C1370.2,272 1376,268.7 1380.7,269.9C1385.3,271 1393,276.8 1394.5,282C1396,287.2 1392.6,296.6 1389.5,301.2C1386.5,305.7 1380.1,309.6 1376.2,309.4C1372.2,309.2 1368.5,303.5 1365.6,299.9Z" fill="#a2bedd" fill-opacity="0.68"/><path d="M1187.7,212.4C1189.3,210.7 1189.9,208.4 1191.6,207.8C1193.3,207.2 1196.1,208 1197.8,208.8C1199.4,209.7 1200.5,211.3 1201.7,213.1C1203,214.8 1205.9,217.8 1205.4,219.4C1205,221.1 1201,220.6 1198.9,223C1196.9,225.4 1195.4,233.5 1193.3,233.8C1191.2,234.2 1188.2,227.8 1186.3,225.2C1184.4,222.6 1181.6,220.4 1181.8,218.2C1182,216.1 1186.1,214.2 1187.7,212.4Z" fill="#9bb8d9" fill-opacity="0.51"/><path d="M1341.7,230.4C1348.9,230.1 1357.6,235.7 1363.5,240C1369.4,244.3 1379.5,252.9 1377.1,256.5C1374.6,260.1 1359.1,260.4 1348.9,261.5C1338.7,262.7 1320.7,266.8 1316,263.6C1311.3,260.4 1316.2,247.9 1320.5,242.3C1324.8,236.8 1334.5,230.8 1341.7,230.4Z" fill="#8eaed3" fill-opacity="0.62"/><path d="M1302.1,131.3C1299.6,129 1301.7,122.6 1301.7,118.8C1301.7,115.1 1300.2,111.5 1302.1,109C1304.1,106.6 1309.1,104 1313.3,104C1317.4,104 1324.6,105.6 1327.3,108.9C1329.9,112.3 1331,120.3 1329.2,124.3C1327.4,128.2 1320.9,131.4 1316.4,132.6C1311.9,133.8 1304.5,133.6 1302.1,131.3Z" fill="#5888bf" fill-opacity="0.85"/><path d="M1301.4,117.9C1302.4,115.7 1303.1,113 1304.6,112.5C1306,111.9 1308.1,114 1310.3,114.5C1312.5,115 1316,113.8 1317.7,115.4C1319.3,116.9 1321.2,121.7 1320.4,123.8C1319.5,125.9 1315.1,126.9 1312.6,127.9C1310.1,128.9 1307.8,130.4 1305.5,130C1303.2,129.5 1299.3,127.3 1298.6,125.3C1297.9,123.3 1300.4,120 1301.4,117.9Z" fill="#4b7bb3" fill-opacity="0.7"/><path d="M1215.2,149.1C1217.9,146.9 1222.9,146.9 1226.3,147.8C1229.7,148.7 1234.1,150.8 1235.6,154.5C1237.2,158.2 1238.4,166.4 1235.6,170C1232.7,173.6 1222.6,177.5 1218.3,175.9C1214.1,174.4 1210.7,165.5 1210.2,161C1209.7,156.5 1212.6,151.3 1215.2,149.1Z" fill="#5888bf" fill-opacity="0.85"/><path d="M1233.8,150.2C1235.5,152.1 1238.8,154.3 1238.6,156.1C1238.5,157.9 1234.4,159.3 1232.8,161.1C1231.2,162.8 1230.9,165.9 1229.1,166.6C1227.3,167.3 1223.5,166.7 1222.2,165.4C1220.9,164.1 1222.7,160.9 1221.4,158.7C1220.1,156.6 1214,153.7 1214.3,152.4C1214.6,151.1 1220.9,152 1223.3,150.7C1225.7,149.4 1226.8,144.8 1228.6,144.8C1230.3,144.7 1232.2,148.4 1233.8,150.2Z" fill="#4b7bb3" fill-opacity="0.7"/><path d="M1343.2,143.1C1344.5,141.3 1345.8,136.4 1348.2,136.1C1350.7,135.7 1354.3,139.6 1358,141.1C1361.7,142.5 1370.2,143.2 1370.5,144.7C1370.8,146.2 1362.9,148.3 1360,150C1357.1,151.6 1356.7,154 1353.3,154.7C1349.9,155.5 1341.9,155.9 1339.8,154.6C1337.7,153.4 1340,149.1 1340.6,147.1C1341.2,145.2 1342,145 1343.2,143.1Z" fill="#5888bf" fill-opacity="0.85"/><path d="M1344.7,147.5C1343.3,145.5 1342.3,141.4 1343.3,139.1C1344.3,136.8 1348.7,133.4 1350.6,133.6C1352.6,133.8 1353.7,138.3 1355,140.4C1356.3,142.5 1359.1,144.5 1358.6,146.3C1358.1,148.1 1354.4,151.2 1352.1,151.4C1349.8,151.6 1346.2,149.6 1344.7,147.5Z" fill="#4b7bb3" fill-opacity="0.7"/><path d="M1423.3,192.2C1420.6,192.9 1415.8,191.1 1412.1,190.2C1408.4,189.2 1401.3,187.8 1401,186.4C1400.8,185 1407.2,182.7 1410.8,181.6C1414.3,180.4 1419.1,178.8 1422.1,179.5C1425,180.2 1428.3,183.5 1428.5,185.7C1428.7,187.8 1426,191.4 1423.3,192.2Z" fill="#5888bf" fill-opacity="0.85"/><path d="M1420.7,186.6C1420,188.4 1418.1,190.1 1416.4,190.9C1414.7,191.8 1411.8,192.4 1410.4,191.6C1408.9,190.9 1408.3,188.2 1407.7,186.5C1407.1,184.9 1406.4,182.9 1406.9,181.8C1407.5,180.8 1409.9,180.7 1411.2,180.2C1412.6,179.7 1413.3,178.7 1414.9,178.7C1416.5,178.7 1420,178.8 1420.9,180.1C1421.9,181.5 1421.5,184.8 1420.7,186.6Z" fill="#4b7bb3" fill-opacity="0.7"/><path d="M1249.2,205.2C1255,204.6 1264.9,202.4 1269.6,203.9C1274.3,205.5 1276.5,211 1277.2,214.5C1277.9,218 1277.5,222.9 1273.9,225C1270.3,227.1 1261.1,226.9 1255.7,227.4C1250.3,227.8 1246.2,228.2 1241.7,227.5C1237.2,226.8 1232.4,225.5 1228.7,223.2C1225,221 1218.6,216.6 1219.6,214C1220.6,211.4 1229.8,209 1234.7,207.6C1239.7,206.1 1243.4,205.8 1249.2,205.2Z" fill="#5888bf" fill-opacity="0.85"/><path d="M1246.7,221.8C1243.6,220.3 1238.4,220.1 1237.6,217.4C1236.7,214.7 1238.9,207.5 1241.7,205.6C1244.5,203.7 1251.2,204.2 1254.2,205.9C1257.2,207.5 1259.4,212.2 1259.7,215.6C1260,219 1258.1,225.2 1255.9,226.3C1253.8,227.3 1249.7,223.2 1246.7,221.8Z" fill="#4b7bb3" fill-opacity="0.7"/><path d="M1306.3,263.3C1303.2,263.5 1298.8,255.4 1295.7,251C1292.6,246.6 1286.3,241 1287.8,236.9C1289.3,232.7 1299.8,225.7 1304.8,226C1309.9,226.2 1316.6,234.4 1318.2,238.3C1319.7,242.2 1316.3,245.4 1314.3,249.6C1312.3,253.7 1309.4,263 1306.3,263.3Z" fill="#5888bf" fill-opacity="0.85"/><path d="M1319.6,241.5C1320.8,243.6 1321.6,247.5 1320.7,249.7C1319.8,251.9 1316.6,253.4 1314.3,254.6C1312.1,255.9 1309,257.8 1307.2,257.1C1305.3,256.5 1304.4,252.7 1303.2,250.8C1301.9,249 1300.1,247.8 1299.9,246C1299.6,244.2 1300.4,241.1 1301.7,240.1C1303,239 1305.7,240.3 1307.7,239.8C1309.6,239.3 1311.6,236.9 1313.5,237.2C1315.5,237.4 1318.4,239.4 1319.6,241.5Z" fill="#4b7bb3" fill-opacity="0.7"/><path d="M1363.5,230.1C1366,232.1 1372.4,237.8 1371.4,239.7C1370.4,241.5 1361.6,240.9 1357.3,241C1353,241.1 1348.4,242.4 1345.6,240.2C1342.7,238 1338.4,229.7 1340.1,227.7C1341.9,225.7 1352.1,227.8 1356,228.2C1359.9,228.6 1360.9,228.2 1363.5,230.1Z" fill="#5888bf" fill-opacity="0.85"/><path d="M1357.7,238.3C1356.3,239 1354.2,239.2 1352.6,238.8C1351,238.4 1348.6,237.1 1348.2,235.8C1347.8,234.5 1349.6,232.8 1350,231C1350.4,229.2 1349.7,225.8 1350.7,225.1C1351.7,224.5 1354.6,226.5 1356.1,227.3C1357.6,228 1358.9,228.5 1359.7,229.7C1360.5,230.8 1361.3,232.9 1361,234.4C1360.7,235.8 1359.1,237.5 1357.7,238.3Z" fill="#4b7bb3" fill-opacity="0.7"/><path d="M1175,259.7C1174.1,257.4 1176.5,251.8 1178.9,250.3C1181.3,248.7 1186.7,249.7 1189.4,250.5C1192.1,251.2 1193.5,253.1 1194.9,254.7C1196.4,256.2 1197.2,257.2 1198.1,259.5C1198.9,261.9 1201.2,266.5 1199.8,268.6C1198.4,270.7 1192.2,273 1189.6,272.3C1187,271.6 1186.6,266.6 1184.2,264.5C1181.7,262.4 1175.9,262.1 1175,259.7Z" fill="#5888bf" fill-opacity="0.85"/><path d="M1198.8,259.1C1199,260.4 1198.1,262.5 1197.1,263.4C1196,264.4 1194.1,264.7 1192.7,264.7C1191.3,264.7 1189.4,264.2 1188.6,263.4C1187.8,262.5 1188.4,261 1187.8,259.6C1187.1,258.1 1184.6,256.3 1184.7,254.8C1184.9,253.3 1187.2,251.2 1188.7,250.7C1190.3,250.2 1192.8,251.1 1194,252C1195.3,252.8 1195.5,254.5 1196.3,255.7C1197.1,256.9 1198.7,257.8 1198.8,259.1Z" fill="#4b7bb3" fill-opacity="0.7"/><path d="M1394.6,134.6C1395.9,135.5 1392.9,138.5 1393,140.4C1393,142.4 1396.3,144.5 1395.1,146.1C1393.9,147.7 1388.5,150.3 1385.6,150.1C1382.6,150 1378.7,146.9 1377.4,145.4C1376,143.8 1377.4,142.1 1377.6,140.7C1377.8,139.4 1377.3,138 1378.5,137.1C1379.7,136.1 1382,135.3 1384.7,134.9C1387.3,134.5 1393.2,133.7 1394.6,134.6Z" fill="#5888bf" fill-opacity="0.85"/><path d="M1385.7,132.9C1387,132.7 1388.7,133.9 1389.6,134.8C1390.5,135.7 1390.8,136.9 1391,138.3C1391.2,139.8 1391.7,142.8 1390.8,143.7C1389.8,144.5 1386.5,144.2 1385.3,143.5C1384,142.8 1384,140.9 1383.4,139.6C1382.9,138.3 1381.5,136.7 1381.8,135.6C1382.2,134.5 1384.4,133 1385.7,132.9Z" fill="#4b7bb3" fill-opacity="0.7"/><path d="M1278,171.5C1281,170.5 1286.1,168.7 1288.2,169.2C1290.3,169.8 1289,172.8 1290.6,174.8C1292.2,176.8 1298.9,180 1297.7,181.2C1296.6,182.5 1287.9,182.2 1283.9,182.1C1279.8,182 1275.8,181.7 1273.6,180.5C1271.3,179.3 1269.6,176.5 1270.3,175C1271,173.5 1275,172.5 1278,171.5Z" fill="#5888bf" fill-opacity="0.85"/><path d="M1274.5,175.6C1274.4,174.5 1275.4,172.3 1276.4,171.9C1277.3,171.5 1278.6,173 1280.2,173.1C1281.8,173.2 1285.5,172 1286,172.7C1286.4,173.5 1283.9,176.5 1283.2,177.7C1282.4,178.9 1282.3,179.2 1281.4,180.1C1280.5,181 1278.6,183.4 1277.8,183.1C1277.1,182.9 1277.3,179.7 1276.7,178.4C1276.1,177.2 1274.5,176.7 1274.5,175.6Z" fill="#4b7bb3" fill-opacity="0.7"/><path d="M1406.8,261.7C1407.3,263.2 1409.2,265.5 1407.7,266.9C1406.2,268.4 1400.7,270.7 1397.9,270.4C1395.1,270.1 1393.1,267.1 1391,265.1C1388.8,263.1 1384.1,260.1 1385,258.5C1385.9,256.9 1393.3,255.5 1396.5,255.4C1399.8,255.3 1403,256.8 1404.7,257.9C1406.4,258.9 1406.3,260.2 1406.8,261.7Z" fill="#5888bf" fill-opacity="0.85"/><path d="M1398.2,268C1397.4,267.3 1397.8,265.3 1397.5,264.2C1397.2,263.1 1396.4,262.5 1396.5,261.3C1396.6,260 1397,257.2 1398.1,256.6C1399.2,256 1401.4,257 1403.1,257.7C1404.7,258.4 1407.2,259.2 1407.7,260.6C1408.3,262 1407.3,264.7 1406.4,266C1405.5,267.3 1403.7,268.1 1402.3,268.4C1400.9,268.7 1399,268.7 1398.2,268Z" fill="#4b7bb3" fill-opacity="0.7"/><path d="M1212,212.1C1210.7,213.6 1207.2,215.8 1204.7,215.8C1202.1,215.8 1198.1,213.7 1196.9,212.2C1195.7,210.7 1197.1,208.6 1197.7,206.7C1198.2,204.7 1198.2,201.6 1200.3,200.6C1202.4,199.7 1208.3,199.8 1210.4,200.8C1212.4,201.9 1212.2,205.1 1212.5,207C1212.7,208.9 1213.3,210.7 1212,212.1Z" fill="#5888bf" fill-opacity="0.85"/><path d="M1205.1,214.4C1203.7,214.4 1201,216.3 1200.6,215.8C1200.1,215.2 1202.3,212.4 1202.4,211.1C1202.6,209.9 1201.3,209.3 1201.5,208.2C1201.7,207.1 1202.7,204.8 1203.6,204.6C1204.5,204.4 1205.9,206.4 1207,207.1C1208.1,207.7 1209.6,207.7 1210.1,208.5C1210.7,209.3 1210.7,210.9 1210.5,212.1C1210.3,213.3 1209.9,215.4 1209,215.8C1208.1,216.2 1206.5,214.4 1205.1,214.4Z" fill="#4b7bb3" fill-opacity="0.7"/><path d="M1333.4,192.8C1334.5,193.4 1335.8,194.4 1336.1,195.5C1336.4,196.5 1336,197.7 1335.2,199.1C1334.4,200.5 1333.1,203.4 1331.2,203.9C1329.3,204.3 1325.8,203 1323.8,201.9C1321.7,200.8 1319.2,198.8 1318.9,197C1318.6,195.2 1320.1,192 1321.9,191.2C1323.6,190.3 1327.4,191.5 1329.4,191.8C1331.3,192.1 1332.3,192.2 1333.4,192.8Z" fill="#5888bf" fill-opacity="0.85"/><path d="M1329.9,192.7C1331.1,192.8 1332.9,193.2 1333.7,194.1C1334.4,194.9 1334.5,196.9 1334.3,198C1334,199.2 1333,200.4 1332.2,200.9C1331.3,201.5 1330.1,201.4 1329,201.3C1328,201.3 1326.5,201.4 1325.7,200.6C1324.8,199.9 1323.8,198.2 1323.9,197C1323.9,195.8 1325.1,194.2 1326,193.5C1327,192.8 1328.6,192.6 1329.9,192.7Z" fill="#4b7bb3" fill-opacity="0.7"/><path d="M1261.2,275.4C1260.3,274.4 1261.4,272.8 1261.3,270.8C1261.3,268.8 1259.8,263.9 1261.1,263.4C1262.4,262.9 1266.8,267 1269.2,267.8C1271.6,268.7 1274,267.2 1275.7,268.2C1277.3,269.2 1279.1,271.9 1279,274C1278.9,276 1277,280.2 1275,280.7C1272.9,281.2 1268.9,277.7 1266.6,276.8C1264.3,275.9 1262.1,276.4 1261.2,275.4Z" fill="#5888bf" fill-opacity="0.85"/><path d="M1272.1,274.1C1271.9,275.7 1271,277.9 1270,278.3C1269,278.7 1267.3,277.4 1266,276.6C1264.8,275.9 1262.7,275 1262.5,273.9C1262.4,272.7 1263.9,270.8 1265.4,269.8C1266.8,268.9 1270,267.5 1271.1,268.2C1272.3,268.9 1272.3,272.4 1272.1,274.1Z" fill="#4b7bb3" fill-opacity="0.7"/><path d="M1423.1,235.3C1419.8,234.7 1413.9,235.5 1412.8,234.6C1411.8,233.6 1415.1,230.6 1416.9,229.6C1418.8,228.7 1421.8,228.9 1424,228.8C1426.2,228.7 1428.5,228.5 1430.1,229.1C1431.6,229.7 1432.8,230.8 1433.3,232.3C1433.8,233.7 1434.7,237.4 1433,237.9C1431.3,238.5 1426.5,235.9 1423.1,235.3Z" fill="#5888bf" fill-opacity="0.85"/><path d="M1424.4,232.5C1424,231.5 1425.4,230 1425.9,229C1426.3,228 1426.2,226.9 1427,226.3C1427.8,225.7 1429.7,224.9 1430.9,225.3C1432,225.8 1433.9,227.6 1434,228.8C1434.2,230.1 1432.8,231.8 1431.8,232.9C1430.8,234 1429.3,235.6 1428,235.5C1426.8,235.5 1424.7,233.6 1424.4,232.5Z" fill="#4b7bb3" fill-opacity="0.7"/><path d="M1185.6,178.1C1186.2,179.3 1187.4,180.8 1187,181.6C1186.5,182.5 1184,182.5 1182.7,183.2C1181.4,183.9 1180.3,185.8 1179.1,185.9C1177.9,185.9 1177,184.3 1175.4,183.4C1173.8,182.5 1170.4,181.8 1169.7,180.5C1169.1,179.1 1170.3,176.3 1171.7,175.2C1173.1,174.1 1176.2,174 1178.2,173.9C1180.1,173.9 1182.1,174.1 1183.3,174.8C1184.6,175.5 1185,177 1185.6,178.1Z" fill="#5888bf" fill-opacity="0.85"/><path d="M1174.9,184.1C1174.4,183.3 1175.6,181.5 1176.1,180.3C1176.6,179.1 1177.1,177.3 1178,177.1C1178.9,176.9 1180.4,178.5 1181.4,178.9C1182.3,179.4 1183.4,179.1 1183.8,179.6C1184.1,180.2 1183.3,181.2 1183.4,182.1C1183.6,183.1 1184.9,184.8 1184.6,185.4C1184.2,186 1182.3,185.9 1181.3,185.8C1180.4,185.8 1180.1,185.3 1179,185C1177.9,184.8 1175.4,184.9 1174.9,184.1Z" fill="#4b7bb3" fill-opacity="0.7"/><path d="M1170,127.6C1167.2,126.8 1166.9,125.2 1164.6,123.2C1162.4,121.3 1156.2,117.7 1156.7,116C1157.3,114.3 1164.4,113.7 1168,112.8C1171.6,112 1175.7,109.9 1178.4,111C1181.1,112 1183.7,116 1184.3,118.9C1184.8,121.9 1184.1,127 1181.7,128.5C1179.3,129.9 1172.8,128.5 1170,127.6Z" fill="#dfe9f4" fill-opacity="0.73"/><path d="M1173.1,139.7C1174.6,139.8 1175.5,144.7 1176.9,146.8C1178.2,148.9 1181.4,150.4 1181.4,152.2C1181.4,154 1178.5,156.7 1176.7,157.6C1175,158.5 1172.6,157.7 1170.8,157.4C1168.9,157 1167.5,156.9 1165.7,155.5C1163.9,154.2 1159.6,150.9 1159.9,149.3C1160.2,147.7 1165.6,147.3 1167.8,145.7C1169.9,144.1 1171.6,139.5 1173.1,139.7Z" fill="#ffffff" fill-opacity="0.84"/><path d="M1249.8,160C1253.1,160.4 1255.6,164.8 1257.7,166.8C1259.7,168.8 1261.5,170 1262,172C1262.6,174 1262.2,176.3 1261,178.9C1259.7,181.4 1257.3,186.5 1254.7,187.1C1252,187.6 1247.3,184 1244.9,182C1242.5,179.9 1241.4,177.9 1240.2,174.9C1239,171.9 1236.1,166.6 1237.7,164.1C1239.3,161.6 1246.5,159.6 1249.8,160Z" fill="#f4f8fc" fill-opacity="0.71"/><path d="M1265.3,117.8C1267.3,118.7 1267.4,123.8 1267.6,126.5C1267.9,129.3 1268.7,132.3 1266.9,134C1265.2,135.7 1259.2,137.8 1257.3,136.8C1255.4,135.9 1255.7,131 1255.4,128.3C1255,125.6 1253.8,122.6 1255.4,120.8C1257.1,119.1 1263.2,116.8 1265.3,117.8Z" fill="#ffffff" fill-opacity="0.80"/><path d="M1360.6,301.7C1357.9,304.3 1355.3,305.5 1351.7,306.8C1348.1,308.2 1341.1,311.9 1338.9,309.8C1336.7,307.7 1339.4,298.7 1338.6,294.1C1337.8,289.5 1333,284.8 1334,282.3C1335.1,279.7 1341.6,281.2 1345,278.7C1348.4,276.2 1352.3,266.7 1354.6,267.3C1356.9,268 1356.4,278.6 1358.6,282.6C1360.9,286.6 1367.8,288.1 1368.1,291.3C1368.5,294.5 1363.4,299.1 1360.6,301.7Z" fill="#f4f8fc" fill-opacity="0.81"/><path d="M1247.6,230.7C1248.2,228.8 1253.9,227.5 1257.4,226.6C1260.9,225.7 1266.6,224.1 1268.7,225.3C1270.8,226.5 1269,231.6 1270.2,233.7C1271.4,235.9 1275.8,236.6 1276,238.3C1276.2,239.9 1273.4,242.8 1271.2,243.6C1269,244.4 1265.7,242.9 1262.8,243C1260,243 1255.6,244.8 1254.1,243.9C1252.6,243.1 1255.1,240 1254,237.8C1252.9,235.6 1247,232.6 1247.6,230.7Z" fill="#e9f0f8" fill-opacity="0.86"/><path d="M1295.1,224.5C1292.7,222.2 1291.6,211.9 1292.3,207.6C1293.1,203.3 1296.6,200.8 1299.5,198.8C1302.3,196.8 1307.6,193.7 1309.3,195.6C1311,197.4 1310.3,205.5 1309.9,209.8C1309.5,214.1 1309.3,218.9 1306.9,221.4C1304.4,223.8 1297.5,226.8 1295.1,224.5Z" fill="#e9f0f8" fill-opacity="0.85"/><path d="M1330.2,286.2C1331.6,285.2 1332.7,284.8 1334.6,284.1C1336.5,283.4 1339.7,281.5 1341.7,282C1343.7,282.4 1345,284.8 1346.6,287C1348.3,289.1 1352.6,293.1 1351.7,294.8C1350.8,296.6 1344.2,296.4 1341.1,297.6C1338,298.8 1335.7,302.2 1333,302.1C1330.3,302 1326.1,299.2 1325,297.2C1323.9,295.1 1325.4,291.8 1326.2,289.9C1327.1,288.1 1328.8,287.1 1330.2,286.2Z" fill="#f4f8fc" fill-opacity="0.81"/><path d="M1303,188.5C1301.1,188.7 1298.6,190.7 1297.5,189.8C1296.4,188.9 1296,185 1296.4,183.2C1296.8,181.3 1298.5,179.9 1299.9,178.8C1301.3,177.7 1303.3,176.2 1305,176.6C1306.7,177 1309.4,179.2 1310,181.2C1310.6,183.2 1309.8,187.4 1308.6,188.6C1307.5,189.8 1304.9,188.3 1303,188.5Z" fill="#f4f8fc" fill-opacity="0.61"/><path d="M1332.3,223.3C1328.8,222 1323.6,212.1 1323,206C1322.5,199.9 1325.3,190.9 1329.1,186.5C1332.8,182.2 1341.2,177.5 1345.5,179.8C1349.9,182.1 1355.4,194.8 1355.1,200.4C1354.9,206.1 1347.7,209.6 1343.9,213.4C1340.1,217.2 1335.7,224.5 1332.3,223.3Z" fill="#e9f0f8" fill-opacity="0.61"/><path d="M1338.4,198C1335.6,197.7 1333,198.2 1331.4,196.9C1329.8,195.6 1329.8,192.7 1328.9,190.3C1328,187.9 1325.2,184 1326.1,182.3C1326.9,180.6 1331.8,180.4 1334.1,180.1C1336.3,179.7 1338,179.7 1339.6,180.3C1341.2,180.8 1342.9,182 1343.9,183.4C1344.9,184.8 1345,186.1 1345.7,188.7C1346.3,191.3 1349.2,197.3 1348,198.9C1346.8,200.4 1341.1,198.3 1338.4,198Z" fill="#e9f0f8" fill-opacity="0.67"/><path d="M1203.9,173.5C1205.9,175.1 1208.7,175.9 1209.9,178.1C1211.1,180.3 1212.1,183.8 1211,186.7C1209.9,189.6 1206.5,194.9 1203.2,195.5C1199.9,196.1 1195.2,192 1191.3,190.5C1187.3,189 1180.7,188.8 1179.6,186.5C1178.5,184.3 1183.7,180.3 1184.6,177C1185.6,173.7 1183.1,168.1 1185.3,166.6C1187.6,165.1 1194.8,166.9 1197.9,168.1C1201,169.2 1201.9,171.8 1203.9,173.5Z" fill="#dfe9f4" fill-opacity="0.52"/><path d="M1243.6,233.1C1245.8,229.7 1256.2,226.2 1260.1,227.6C1264,229 1265.1,237.5 1266.9,241.5C1268.8,245.4 1271.8,247.7 1271.4,251.4C1271,255.1 1267.6,262.7 1264.3,263.7C1261.1,264.6 1254.8,259.6 1251.9,257C1249,254.5 1248.3,252.4 1246.9,248.4C1245.5,244.4 1241.4,236.6 1243.6,233.1Z" fill="#f4f8fc" fill-opacity="0.73"/><path d="M1160.3,197C1162.5,193.1 1166.4,185.3 1170.7,184.4C1175,183.5 1184.7,187.5 1186.1,191.7C1187.5,195.8 1179.7,203.8 1179,209.2C1178.4,214.7 1183.9,222.4 1182.2,224.3C1180.6,226.1 1172.6,221.9 1169.4,220.5C1166.2,219.1 1165.1,218 1163,215.9C1161,213.9 1157.7,211.4 1157.3,208.2C1156.8,205.1 1158,201 1160.3,197Z" fill="#f4f8fc" fill-opacity="0.61"/><path d="M1370.8,302.3C1368.8,302.9 1368.1,304.7 1365.9,305C1363.6,305.3 1358.8,305.4 1357.2,304.3C1355.6,303.2 1355.5,299.9 1356.3,298.4C1357.1,296.8 1360.4,296.5 1362.1,295.1C1363.7,293.8 1364.3,290.8 1366,290.4C1367.8,290.1 1371.3,292.1 1372.7,293.2C1374.1,294.3 1373.6,295.8 1374.4,297.1C1375.3,298.5 1378.6,300.4 1378,301.3C1377.3,302.2 1372.8,301.7 1370.8,302.3Z" fill="#e9f0f8" fill-opacity="0.86"/><path d="M1360.7,122.4C1362,123.6 1360.2,125.6 1360.7,127.8C1361.1,130.1 1364.9,134.7 1363.4,135.7C1362,136.8 1355.4,134.5 1352,134.2C1348.5,133.8 1344.4,134.7 1342.8,133.6C1341.3,132.5 1342.3,129.3 1342.6,127.4C1342.9,125.5 1343,123.3 1344.7,122.2C1346.4,121.1 1350,120.7 1352.6,120.7C1355.3,120.8 1359.3,121.2 1360.7,122.4Z" fill="#f4f8fc" fill-opacity="0.68"/><path d="M1185.6,116.5C1187.4,115 1189.3,110.9 1190.8,111.3C1192.3,111.8 1192.8,116 1194.4,119.1C1196.1,122.2 1200.5,125.6 1200.6,129.8C1200.8,134 1197.9,142.7 1195.4,144.1C1192.9,145.5 1187.8,140.7 1185.7,138.1C1183.7,135.6 1184.1,131.6 1183.1,128.7C1182.2,125.7 1179.5,122.4 1179.9,120.4C1180.3,118.4 1183.8,118 1185.6,116.5Z" fill="#ffffff" fill-opacity="0.56"/><path d="M1331.7,202.4C1332.6,204.2 1332.8,208.4 1330.5,209.9C1328.2,211.3 1320.7,212.1 1317.8,211.3C1314.9,210.5 1313.6,206.8 1313,205.1C1312.4,203.3 1313.3,202.2 1314.2,200.9C1315.1,199.7 1316.5,198 1318.4,197.6C1320.2,197.2 1322.9,197.9 1325.2,198.7C1327.4,199.5 1330.8,200.5 1331.7,202.4Z" fill="#e9f0f8" fill-opacity="0.61"/><path d="M1198.9,163.8C1197.9,167.6 1194.9,175.2 1191.7,175.9C1188.4,176.6 1182.4,170.8 1179.6,168.1C1176.8,165.3 1176,163.5 1174.9,159.5C1173.8,155.5 1170.4,146.7 1172.8,144.3C1175.2,141.9 1185.1,143.5 1189.2,145.1C1193.4,146.6 1196,150.2 1197.6,153.3C1199.2,156.5 1199.9,160.1 1198.9,163.8Z" fill="#e9f0f8" fill-opacity="0.53"/><path d="M1312.6,246.3C1310.1,245.8 1309.6,235.8 1306.8,232.9C1304,230 1296.8,231.1 1296.1,229.2C1295.3,227.2 1300.4,223.5 1302.3,221C1304.3,218.5 1305.3,215.3 1307.8,214.2C1310.4,213.1 1314.1,213.8 1317.5,214.4C1320.9,215.1 1325.7,215.7 1328.2,218.3C1330.7,220.8 1333.6,226.8 1332.5,229.8C1331.3,232.8 1324.9,233.6 1321.5,236.3C1318.2,239.1 1315.1,246.9 1312.6,246.3Z" fill="#ffffff" fill-opacity="0.87"/><path d="M1341.7,150C1344,149.2 1348.9,147.6 1350.5,149.3C1352.2,150.9 1352.2,156.5 1351.6,159.8C1351.1,163 1349.3,167.9 1347.3,168.8C1345.3,169.6 1341.4,166.4 1339.5,164.9C1337.7,163.4 1336.7,161.7 1336.3,159.8C1335.9,157.9 1336,155.3 1336.9,153.6C1337.8,152 1339.5,150.7 1341.7,150Z" fill="#e9f0f8" fill-opacity="0.74"/><path d="M1267.6,175.5C1266.8,177.4 1266.2,177.6 1264.9,178.8C1263.7,179.9 1261.6,182.7 1260.1,182.4C1258.5,182.2 1256,179.2 1255.6,177.3C1255.2,175.4 1256.7,172.9 1257.8,171.3C1258.8,169.6 1260.1,168 1262.1,167.4C1264,166.7 1268.8,166.1 1269.7,167.4C1270.6,168.8 1268.4,173.6 1267.6,175.5Z" fill="#ffffff" fill-opacity="0.66"/><path d="M1412.4,250.5C1413.9,251.3 1413.6,254.5 1414.8,256.5C1416,258.6 1419.7,260.7 1419.4,262.6C1419.2,264.5 1415.8,266.9 1413.4,267.8C1411,268.7 1406.1,269.3 1405,267.9C1403.8,266.4 1406.4,261.7 1406.4,259C1406.5,256.4 1404.5,253.4 1405.5,252C1406.5,250.6 1410.8,249.7 1412.4,250.5Z" fill="#dfe9f4" fill-opacity="0.88"/><path d="M1274.7,187.7C1271.4,190.9 1261.2,193.5 1256.6,192.3C1252,191 1248.2,184.2 1247.1,180.2C1246,176.1 1247.1,171.2 1250.2,167.8C1253.4,164.5 1261.6,159.2 1265.9,160.1C1270.2,160.9 1274.5,168.4 1276,173C1277.4,177.6 1277.9,184.5 1274.7,187.7Z" fill="#dfe9f4" fill-opacity="0.70"/><path d="M1262.6,194.6C1263.8,192.6 1265.8,188.9 1267.5,189C1269.2,189 1271,193.3 1272.6,194.8C1274.2,196.2 1276,195.9 1277.1,197.6C1278.1,199.3 1279.9,203.3 1279,205C1278.1,206.7 1273.7,208 1271.5,207.9C1269.3,207.8 1267.9,205.4 1266,204.2C1264.2,203 1260.9,202.4 1260.3,200.8C1259.8,199.2 1261.4,196.6 1262.6,194.6Z" fill="#ffffff" fill-opacity="0.71"/><path d="M1441.6,184.8C1435.6,185.4 1425.5,180.8 1421,176.8C1416.4,172.9 1411.5,165.3 1414.1,161.2C1416.7,157.1 1429,152.5 1436.5,152.2C1444.1,151.8 1455.9,155.5 1459.3,159.1C1462.8,162.7 1460.2,169.4 1457.2,173.7C1454.3,178 1447.7,184.3 1441.6,184.8Z" fill="#f4f8fc" fill-opacity="0.80"/><path d="M1443.1,101.5C1438.4,101.7 1436.1,105.7 1432.8,105.4C1429.5,105.2 1426.3,102.5 1423.2,99.8C1420.1,97.2 1412.9,91.9 1414.3,89.6C1415.7,87.3 1427.3,86.7 1431.8,86C1436.3,85.4 1437.7,85.8 1441.3,85.7C1444.8,85.6 1449.2,84.2 1452.9,85.4C1456.6,86.6 1462.2,89.6 1463.5,92.8C1464.9,95.9 1464.6,102.8 1461.2,104.2C1457.7,105.7 1447.8,101.3 1443.1,101.5Z" fill="#e9f0f8" fill-opacity="0.60"/><path d="M1188.4,196.1C1187.3,197.7 1184.7,201 1182.8,200.8C1181,200.6 1177.6,197 1177.3,194.7C1177,192.4 1180.1,189 1181.1,187.1C1182.1,185.1 1182.4,183.7 1183.5,182.8C1184.7,181.9 1186.5,181.2 1188,181.5C1189.5,181.9 1192.4,183.5 1192.7,185C1192.9,186.6 1190.4,189.1 1189.7,191C1189,192.8 1189.6,194.4 1188.4,196.1Z" fill="#ffffff" fill-opacity="0.82"/><path d="M1363.5,171.2C1364.8,173.7 1362.2,178.9 1362.1,182.5C1362.1,186.2 1364.3,191.3 1363,193.4C1361.6,195.5 1356.3,195.9 1354.1,195C1351.9,194 1351.3,189.9 1349.8,187.8C1348.2,185.7 1345.2,184.5 1344.9,182.3C1344.5,180.1 1346.3,177 1347.8,174.5C1349.4,172 1351.7,168.1 1354.3,167.6C1356.9,167 1362.2,168.7 1363.5,171.2Z" fill="#ffffff" fill-opacity="0.90"/><path d="M1365.9,116.2C1366.5,117.8 1365.1,121.3 1364.1,122.9C1363.1,124.5 1361.7,124.4 1359.9,125.9C1358.1,127.3 1355,132 1353.2,131.6C1351.4,131.2 1349.8,126.3 1349.1,123.6C1348.4,120.9 1347.9,117.2 1349,115.4C1350,113.5 1353.3,112.8 1355.3,112.4C1357.2,112 1358.7,112.3 1360.4,112.9C1362.2,113.5 1365.3,114.5 1365.9,116.2Z" fill="#dfe9f4" fill-opacity="0.52"/><path d="M1264.3,115.5C1262.9,111.7 1258.8,106.1 1260.6,103.9C1262.5,101.6 1270.8,102.8 1275.2,102.1C1279.7,101.4 1284.9,98.4 1287.3,99.7C1289.7,100.9 1288.8,106.5 1289.6,109.7C1290.5,112.8 1293.8,116.6 1292.6,118.6C1291.3,120.6 1285.8,120.4 1281.9,121.7C1278,122.9 1271.9,127.3 1268.9,126.3C1266,125.2 1265.6,119.2 1264.3,115.5Z" fill="#dfe9f4" fill-opacity="0.65"/><path d="M1244.4,253.4C1248.9,253.9 1253.9,256.9 1255.5,259.6C1257,262.3 1254.4,266.2 1253.8,269.5C1253.1,272.7 1253.6,277.5 1251.4,278.9C1249.2,280.3 1243.7,279.2 1240.5,277.9C1237.2,276.6 1233.8,274.8 1231.9,271.3C1229.9,267.8 1226.6,259.9 1228.7,256.9C1230.8,253.9 1239.9,253 1244.4,253.4Z" fill="#dfe9f4" fill-opacity="0.59"/><path d="M1341,137.6C1338.8,136 1334.1,133.7 1334,131.5C1333.8,129.3 1337.1,125.7 1340.1,124.5C1343.1,123.2 1348.4,123.6 1351.9,124C1355.4,124.3 1359.7,125.2 1361.1,126.7C1362.5,128.2 1359.3,130.7 1360.3,133C1361.4,135.2 1368.5,139.2 1367.5,140.3C1366.5,141.3 1357.7,139.2 1354.3,139.3C1350.9,139.5 1349.2,141.6 1347,141.3C1344.8,141 1343.2,139.2 1341,137.6Z" fill="#f4f8fc" fill-opacity="0.74"/><path d="M1263.6,232.2C1267.7,231.2 1271.7,231.8 1274.6,233C1277.5,234.1 1280.7,236.5 1281.2,239.1C1281.7,241.8 1281,247.5 1277.6,249.1C1274.3,250.7 1265.6,250.4 1261,248.8C1256.5,247.1 1250,241.7 1250.4,239C1250.8,236.2 1259.6,233.2 1263.6,232.2Z" fill="#e9f0f8" fill-opacity="0.90"/><path d="M1187,128.8C1186.7,131.6 1187.4,134.5 1186.2,135.6C1185,136.7 1181.6,136.4 1179.8,135.3C1178,134.2 1175,131 1175.1,129C1175.2,127.1 1178.1,125.4 1180.2,123.7C1182.3,122 1186.4,117.9 1187.5,118.7C1188.7,119.6 1187.2,126 1187,128.8Z" fill="#dfe9f4" fill-opacity="0.67"/><path d="M1191.8,153C1196.4,151.8 1204,155.1 1209.8,156C1215.6,157 1224.7,156.7 1226.8,158.9C1228.9,161.1 1224.9,166.9 1222.5,169.4C1220,171.8 1215.6,172.4 1212.1,173.6C1208.7,174.8 1205,176.9 1201.5,176.6C1198.1,176.3 1194.7,174.2 1191.4,172C1188.2,169.8 1182,166.5 1182.1,163.3C1182.1,160.1 1187.2,154.2 1191.8,153Z" fill="#ffffff" fill-opacity="0.50"/><path d="M1416.1,108.2C1415.3,111.7 1412.9,118.5 1410.5,119.1C1408.1,119.7 1403,115.1 1401.6,111.8C1400.2,108.5 1401,102.6 1402.2,99.4C1403.4,96.2 1406.4,92.7 1408.6,92.4C1410.8,92.2 1414.2,95.3 1415.5,97.9C1416.7,100.6 1417,104.6 1416.1,108.2Z" fill="#ffffff" fill-opacity="0.81"/><path d="M1334.6,172.2C1338.5,175.5 1347.9,178.1 1348,181.5C1348.2,185 1339.4,188.2 1335.6,193.1C1331.8,197.9 1328.6,210.6 1325.3,210.4C1322,210.3 1317.4,198 1316,192.2C1314.6,186.3 1315.4,180.5 1316.9,175.3C1318.4,170.2 1321.9,162 1324.9,161.4C1327.8,160.9 1330.8,168.8 1334.6,172.2Z" fill="#dfe9f4" fill-opacity="0.57"/><path d="M1402.9,280.9C1405.8,280.8 1409.7,285.7 1412.1,288.2C1414.4,290.7 1418.2,294.5 1417.1,296C1415.9,297.6 1408.5,297.5 1405.2,297.5C1401.9,297.4 1399,297.1 1397.2,295.6C1395.4,294.2 1393.3,291.3 1394.3,288.8C1395.2,286.4 1399.9,281 1402.9,280.9Z" fill="#ffffff" fill-opacity="0.59"/><path d="M1432,232.2C1426.7,231.8 1417.9,236.7 1416,234.3C1414.1,231.8 1418.8,222.1 1420.7,217.5C1422.5,212.8 1423.8,208.4 1427.2,206.4C1430.6,204.3 1436.8,203.3 1441,205.2C1445.2,207.2 1451.2,212.7 1452.3,218C1453.5,223.3 1451.3,234.6 1447.9,237C1444.5,239.3 1437.3,232.6 1432,232.2Z" fill="#ffffff" fill-opacity="0.66"/><path d="M1324.5,200.9C1320.6,202.3 1314.6,209.5 1312.1,208.2C1309.6,206.9 1310,197.9 1309.5,193.1C1308.9,188.3 1306.8,182.1 1308.6,179.2C1310.4,176.3 1317.1,175.5 1320.3,175.7C1323.6,176 1325.9,178.8 1328.3,180.8C1330.8,182.7 1333.9,184.3 1335.1,187.5C1336.3,190.8 1337.3,198 1335.6,200.2C1333.8,202.4 1328.4,199.6 1324.5,200.9Z" fill="#dfe9f4" fill-opacity="0.75"/><path d="M1241.2,258.3C1241.2,254.4 1243.5,247.2 1246.5,245.5C1249.5,243.8 1255.4,246.7 1259.2,248.3C1262.9,249.9 1268.5,252.4 1269,255.2C1269.6,258 1264.5,261.5 1262.5,265.1C1260.4,268.6 1259.3,275.9 1256.6,276.6C1254,277.2 1249.1,271.8 1246.6,268.7C1244,265.7 1241.3,262.2 1241.2,258.3Z" fill="#e9f0f8" fill-opacity="0.51"/><path d="M1227.4,302.8C1223.3,301.8 1218.2,297.1 1217.2,293.3C1216.3,289.5 1218.4,281.5 1221.8,280.2C1225.3,278.9 1234.2,283.5 1238,285.3C1241.7,287.2 1243.9,288.7 1244.5,291.1C1245.1,293.4 1244.5,297.4 1241.7,299.4C1238.8,301.4 1231.5,303.8 1227.4,302.8Z" fill="#e9f0f8" fill-opacity="0.58"/><path d="M1253.8,263.9C1251.8,267.7 1243.9,271.4 1240.4,270.7C1236.8,270.1 1233.9,263.5 1232.6,260.1C1231.3,256.6 1231.5,253.3 1232.8,249.9C1234.2,246.4 1237.5,239.9 1240.7,239.5C1244,239.1 1250.2,243.6 1252.3,247.6C1254.5,251.7 1255.8,260 1253.8,263.9Z" fill="#e9f0f8" fill-opacity="0.66"/><path d="M1355.8,83.8C1356.3,88 1351.2,91.4 1349.7,96.8C1348.3,102.2 1349.9,114 1347.2,116.1C1344.6,118.2 1336.8,113.3 1333.9,109.4C1331,105.5 1329.1,96.7 1330,92.6C1330.8,88.5 1336.1,88.3 1338.9,84.8C1341.6,81.4 1343.7,71.9 1346.5,71.8C1349.3,71.6 1355.3,79.6 1355.8,83.8Z" fill="#ffffff" fill-opacity="0.66"/><path d="M1271.7,242.8C1269.3,240.2 1267.3,231.2 1268.1,227.1C1268.9,222.9 1273.7,220.4 1276.6,218.1C1279.5,215.9 1282.1,213 1285.6,213.7C1289.2,214.3 1297.3,218.1 1297.8,221.9C1298.4,225.7 1291.4,232.9 1288.9,236.3C1286.3,239.8 1285.2,241.6 1282.3,242.7C1279.5,243.8 1274.1,245.5 1271.7,242.8Z" fill="#ffffff" fill-opacity="0.57"/><path d="M1404.5,222.2C1406,226 1407.5,229.9 1406.1,232.8C1404.6,235.7 1399.8,239.4 1395.7,239.6C1391.7,239.9 1382.8,237.2 1381.7,234.3C1380.6,231.4 1386.6,226.2 1389.1,222.1C1391.6,218 1394.2,209.7 1396.8,209.7C1399.3,209.7 1402.9,218.3 1404.5,222.2Z" fill="#ffffff" fill-opacity="0.78"/><path d="M1281,87.4C1280.8,85.5 1285,83.5 1287,81.4C1289,79.3 1290.6,74.8 1292.9,74.8C1295.1,74.7 1297.3,79.9 1300.4,81.2C1303.4,82.4 1310.4,81 1311.2,82.3C1312.1,83.6 1306.4,86.8 1305.2,89C1304,91.3 1305.7,95.1 1304,96C1302.3,96.8 1297.8,94.7 1295.1,94.2C1292.4,93.6 1290.3,93.8 1287.9,92.7C1285.6,91.6 1281.1,89.2 1281,87.4Z" fill="#dfe9f4" fill-opacity="0.58"/><path d="M1265.7,224.8C1263.7,223 1264.1,215.2 1263.6,211.4C1263.2,207.6 1262.9,205.9 1263.1,202C1263.2,198.1 1262.6,190.6 1264.6,188.2C1266.6,185.8 1272.5,186.1 1275.3,187.6C1278,189 1280.1,194 1281.2,197C1282.2,200.1 1280.6,202.1 1281.6,206C1282.5,209.9 1288,217.8 1287,220.5C1286,223.1 1279.3,221.1 1275.7,221.8C1272.2,222.6 1267.7,226.5 1265.7,224.8Z" fill="#e9f0f8" fill-opacity="0.81"/><path d="M1355.4,179.8C1353.7,178.6 1352.7,177.3 1351.7,175.3C1350.7,173.3 1348,169.8 1349.4,167.8C1350.8,165.7 1356.4,163.4 1360.1,163.1C1363.9,162.8 1369.5,164.4 1371.9,165.9C1374.3,167.5 1372.1,170.2 1374.5,172.6C1376.9,175 1387,178.5 1386.4,180.2C1385.9,182 1375.3,182.7 1371.2,183.1C1367.1,183.5 1364.5,183.1 1361.9,182.5C1359.3,181.9 1357.1,181 1355.4,179.8Z" fill="#f4f8fc" fill-opacity="0.89"/><path d="M1302.7,197.5C1299.7,197.9 1296.8,200.2 1294.8,198.5C1292.7,196.8 1290,190.3 1290.5,187.3C1290.9,184.3 1295.1,183.1 1297.4,180.5C1299.7,177.8 1302.1,171.1 1304.3,171.3C1306.6,171.5 1309.5,177.5 1311,181.7C1312.4,185.8 1314.6,193.6 1313.2,196.2C1311.8,198.8 1305.8,197.2 1302.7,197.5Z" fill="#e9f0f8" fill-opacity="0.82"/><path d="M1278.2,295.8C1276.5,297.3 1272,296.6 1267.6,297.5C1263.2,298.5 1255,302.6 1251.5,301.4C1248,300.2 1245.9,293.5 1246.6,290.5C1247.3,287.4 1252.6,285.4 1255.6,283.1C1258.7,280.9 1261.5,277 1264.8,276.9C1268.1,276.7 1273.2,280.1 1275.2,282.1C1277.3,284 1276.8,286.3 1277.3,288.6C1277.7,290.8 1279.8,294.3 1278.2,295.8Z" fill="#e9f0f8" fill-opacity="0.74"/><path d="M1162.3,242.2C1164.2,237.9 1170.3,231.8 1174.3,231.9C1178.2,232 1183.2,238.1 1185.9,242.7C1188.5,247.4 1190.7,253.8 1190.2,259.7C1189.6,265.5 1186.5,275.4 1182.4,278C1178.4,280.6 1169.2,278.9 1165.9,275.5C1162.6,272.1 1163.4,263.2 1162.8,257.7C1162.2,252.1 1160.4,246.5 1162.3,242.2Z" fill="#f4f8fc" fill-opacity="0.85"/><path d="M1178.8,273C1182.3,273.1 1186,276.6 1188.5,278.5C1191.1,280.5 1193.8,282.7 1193.9,284.8C1194.1,286.8 1191.4,289.6 1189.5,291C1187.5,292.4 1185.4,292.3 1182.2,293.2C1179.1,294.1 1172,297.6 1170.5,296.5C1168.9,295.5 1173.5,289.9 1173,286.9C1172.5,283.8 1166.4,280.4 1167.4,278.1C1168.3,275.8 1175.2,272.9 1178.8,273Z" fill="#f4f8fc" fill-opacity="0.69"/><path d="M1364.5,95.1C1365.5,99 1369.1,106.7 1366,108.1C1362.8,109.5 1352,104.2 1345.4,103.4C1338.9,102.5 1328.4,104.7 1326.8,103C1325.1,101.2 1332.7,95.3 1335.6,92.9C1338.4,90.6 1339.8,90.1 1343.9,88.8C1347.9,87.4 1356.4,83.7 1359.8,84.8C1363.3,85.8 1363.5,91.2 1364.5,95.1Z" fill="#ffffff" fill-opacity="0.87"/><path d="M1421.9,228.7C1422.8,224.8 1427.1,218.8 1431,217.9C1435,216.9 1441.1,220.4 1445.6,223C1450.1,225.6 1458.5,230.2 1458.1,233.4C1457.6,236.7 1448.4,241.4 1443,242.7C1437.7,244 1429.5,243.5 1426,241.2C1422.5,238.9 1421.1,232.6 1421.9,228.7Z" fill="#ffffff" fill-opacity="0.67"/><path d="M1189.6,197.6C1187,197.5 1185.4,196.1 1183.1,194.8C1180.7,193.5 1176.9,192.7 1175.4,189.8C1174,186.8 1172.6,179.1 1174.4,177.2C1176.2,175.2 1182.8,178.1 1186.1,178C1189.4,178 1191.3,175.8 1194,176.7C1196.8,177.7 1201.9,180.8 1202.7,183.9C1203.5,187 1200.9,193.1 1198.7,195.3C1196.5,197.6 1192.2,197.7 1189.6,197.6Z" fill="#ffffff" fill-opacity="0.55"/><path d="M1391.7,297C1391.7,301 1392.2,301.5 1391.2,305.2C1390.3,309 1388.9,318.2 1386,319.5C1383.1,320.8 1375,316.8 1373.9,313.1C1372.8,309.5 1378,301.2 1379.4,297.5C1380.9,293.9 1380.7,294.1 1382.6,291.3C1384.6,288.6 1389.7,280.3 1391.2,281.2C1392.8,282.2 1391.7,293 1391.7,297Z" fill="#e9f0f8" fill-opacity="0.87"/><path d="M1369.8,191.3C1370.4,194.6 1365.7,201.3 1363.3,204C1360.9,206.7 1357.9,207.9 1355.4,207.6C1352.9,207.2 1349.2,204.6 1348.3,202C1347.5,199.3 1349.7,196 1350.1,191.8C1350.6,187.5 1349.4,177.8 1351.1,176.5C1352.7,175.1 1357.1,181.3 1360.2,183.7C1363.4,186.2 1369.3,187.9 1369.8,191.3Z" fill="#ffffff" fill-opacity="0.50"/><path d="M1273.6,134.5C1273.1,131.6 1278.8,126.2 1281.2,123.5C1283.6,120.9 1285.4,120.4 1288.2,118.7C1291,117 1295.6,112 1297.8,113.1C1300.1,114.2 1300.3,121.4 1301.6,125.2C1303,128.9 1306.5,132.5 1305.9,135.4C1305.4,138.3 1301,139.2 1298.4,142.5C1295.9,145.7 1293,155.3 1290.7,155C1288.4,154.8 1287.4,144.3 1284.5,140.9C1281.7,137.5 1274.2,137.4 1273.6,134.5Z" fill="#f4f8fc" fill-opacity="0.58"/><path d="M1250.5,243.3C1249.5,238.5 1245.5,233.5 1246.4,231C1247.3,228.6 1252.6,229.6 1255.8,228.7C1259.1,227.9 1264.8,224 1266.1,226C1267.5,228 1265,236.9 1264.1,240.7C1263.3,244.4 1262.9,245.1 1261,248.3C1259,251.6 1254.2,261.1 1252.4,260.3C1250.7,259.4 1251.5,248.2 1250.5,243.3Z" fill="#f4f8fc" fill-opacity="0.72"/><path d="M1456.5,165.4C1459.6,167.5 1466.2,172 1464.9,174C1463.7,176 1452.6,174.9 1449,177.4C1445.4,179.8 1446.9,187.4 1443.5,188.6C1440.1,189.9 1430.4,187.4 1428.6,184.9C1426.7,182.5 1431.5,176.5 1432.3,173.8C1433.1,171.2 1433.3,171.9 1433.3,169.2C1433.4,166.4 1430.5,158.5 1432.7,157.3C1434.9,156.1 1442.4,160.5 1446.4,161.8C1450.3,163.2 1453.4,163.4 1456.5,165.4Z" fill="#f4f8fc" fill-opacity="0.64"/><path d="M1214.6,98.5C1212,99.8 1210.5,103.6 1208.5,103.7C1206.5,103.7 1203.5,100.2 1202.6,98.6C1201.7,97.1 1202.9,95.8 1203.2,94.5C1203.4,93.2 1203,92.1 1204.3,90.8C1205.5,89.5 1208.9,86.6 1210.9,86.7C1212.9,86.8 1214,90 1216.3,91.5C1218.5,92.9 1224.5,94.5 1224.3,95.7C1224,96.8 1217.2,97.1 1214.6,98.5Z" fill="#dfe9f4" fill-opacity="0.88"/><path d="M1421.7,225.5C1422.3,228.9 1419.2,237.1 1416.9,238.6C1414.6,240.2 1410.3,236.3 1407.9,234.6C1405.5,232.8 1403.1,231.2 1402.5,228.1C1402,225.1 1402.6,217.9 1404.5,216.2C1406.3,214.6 1410.6,216.4 1413.5,218C1416.4,219.5 1421.2,222 1421.7,225.5Z" fill="#ffffff" fill-opacity="0.87"/><path d="M1299.3,249.5C1301,252.9 1300.5,261.3 1298.6,264.6C1296.7,267.9 1290.5,269.9 1287.8,269.2C1285.1,268.5 1284.2,263.8 1282.4,260.4C1280.7,257 1276.4,251.4 1277.4,248.8C1278.4,246.1 1284.8,244.6 1288.4,244.7C1292.1,244.8 1297.6,246.2 1299.3,249.5Z" fill="#ffffff" fill-opacity="0.53"/><path d="M1180.2,188.4C1177.4,185.9 1168.6,181.5 1169.1,178.5C1169.7,175.4 1178.6,170 1183.5,170.2C1188.4,170.3 1193,178.3 1198.5,179.6C1204,180.9 1214,176.8 1216.6,178.2C1219.1,179.6 1216,185.6 1213.8,187.9C1211.6,190.1 1206.4,190.7 1203.4,191.9C1200.4,193.1 1198.5,194.8 1195.6,195C1192.7,195.3 1188.5,194.5 1186,193.4C1183.4,192.2 1183,190.8 1180.2,188.4Z" fill="#dfe9f4" fill-opacity="0.64"/><path d="M1362.6,127.5C1362.5,126 1364.1,125 1365.6,124.1C1367.1,123.2 1370.1,121.7 1371.6,122C1373.1,122.3 1374.3,124.5 1374.7,125.8C1375.2,127.1 1375.7,128.8 1374.3,129.9C1372.8,131 1368.1,133 1366.1,132.6C1364.2,132.2 1362.7,128.9 1362.6,127.5Z" fill="#f4f8fc" fill-opacity="0.67"/><path d="M1256.6,191.1C1255.9,188.4 1258.8,185.1 1259.1,181C1259.4,176.9 1256.9,168.6 1258.5,166.5C1260.1,164.5 1265.7,168.1 1268.9,168.9C1272,169.7 1275.5,169.1 1277.4,171.4C1279.4,173.7 1280.2,178.4 1280.8,182.5C1281.4,186.5 1282.4,192.7 1280.9,195.8C1279.3,198.9 1274.4,200.6 1271.5,200.9C1268.5,201.2 1265.7,199.2 1263.2,197.6C1260.7,196 1257.3,193.9 1256.6,191.1Z" fill="#e9f0f8" fill-opacity="0.57"/><path d="M1316.8,271.2C1321.6,270.1 1327.4,268 1331.1,269.7C1334.8,271.3 1339.6,278.1 1338.9,281.1C1338.3,284.1 1330.5,285.4 1327.1,287.8C1323.7,290.2 1321.2,295.6 1318.6,295.4C1316.1,295.2 1314.5,289.9 1311.8,286.7C1309.1,283.5 1301.8,278.9 1302.6,276.3C1303.5,273.7 1312.1,272.3 1316.8,271.2Z" fill="#e9f0f8" fill-opacity="0.59"/><path d="M1398.5,227C1398.5,229.6 1397.3,235.5 1395.1,236.1C1392.9,236.8 1388,232.3 1385.3,231.1C1382.7,229.9 1380.4,230.3 1379.2,228.9C1378.1,227.6 1379.1,225.5 1378.4,223.1C1377.8,220.6 1374.2,215.5 1375.4,214.2C1376.5,212.9 1382.5,215.3 1385.5,215.2C1388.4,215.2 1391.3,213 1392.9,213.9C1394.5,214.7 1394.3,218.2 1395.2,220.4C1396.2,222.6 1398.5,224.4 1398.5,227Z" fill="#dfe9f4" fill-opacity="0.66"/><path d="M1324,171.2C1323.2,170 1323.2,170 1322.1,168.7C1321.1,167.4 1317.1,164.3 1317.6,163.3C1318,162.4 1322.9,163.3 1324.8,163.1C1326.7,162.9 1327.3,161.9 1328.9,161.9C1330.6,161.9 1333.7,162.1 1334.7,163.2C1335.7,164.3 1335,166.6 1334.9,168.6C1334.9,170.6 1335.7,173.8 1334.5,175C1333.2,176.2 1329.2,176.5 1327.4,175.9C1325.7,175.2 1324.9,172.4 1324,171.2Z" fill="#f4f8fc" fill-opacity="0.86"/><path d="M1362,168.1C1364.1,169 1362.8,173.4 1364.3,175.7C1365.8,178.1 1371.5,180.6 1370.8,182.1C1370.2,183.6 1363.3,184.2 1360.3,184.6C1357.4,184.9 1356.1,184.5 1352.9,184.2C1349.7,183.9 1341.5,184.1 1341,182.8C1340.5,181.5 1348.1,178.4 1349.8,176.4C1351.5,174.3 1349.4,171.7 1351.4,170.3C1353.4,168.9 1359.8,167.2 1362,168.1Z" fill="#f4f8fc" fill-opacity="0.77"/><path d="M1271,253C1271.2,256.2 1270.4,259.8 1268,261.4C1265.5,263.1 1259.7,264 1256.3,263.1C1252.9,262.2 1247.9,258.5 1247.4,255.8C1247,253.1 1250.3,249.2 1253.5,247C1256.7,244.7 1263.8,241.1 1266.7,242.1C1269.6,243.1 1270.7,249.7 1271,253Z" fill="#dfe9f4" fill-opacity="0.87"/><path d="M1355.4,221.5C1356.2,219.2 1366.6,216.4 1371.4,216.4C1376.1,216.4 1381.8,219.3 1383.9,221.7C1386,224.1 1385.6,228.5 1383.9,230.9C1382.2,233.2 1376.8,235.6 1373.8,235.6C1370.9,235.5 1369.3,232.7 1366.3,230.4C1363.2,228.1 1354.5,223.9 1355.4,221.5Z" fill="#dfe9f4" fill-opacity="0.81"/><path d="M1199,257.2C1198.7,256 1203.9,253.7 1205.6,252.2C1207.2,250.7 1206.9,249.2 1208.8,248.1C1210.7,247 1215.9,244.8 1217.2,245.7C1218.6,246.7 1216.7,251.6 1216.8,253.8C1216.8,256.1 1218.4,258.1 1217.6,259.2C1216.7,260.3 1213.4,260.3 1211.7,260.3C1210,260.4 1209.4,259.9 1207.3,259.4C1205.2,258.9 1199.3,258.4 1199,257.2Z" fill="#ffffff" fill-opacity="0.78"/><path d="M1315.9,222.6C1314.3,222.7 1311.3,215.4 1309.7,213.2C1308.2,210.9 1307.9,211.2 1306.9,209.1C1305.8,207.1 1302.5,202.2 1303.3,200.9C1304.2,199.6 1309.1,202.2 1311.9,201.5C1314.6,200.9 1317.9,196.3 1319.7,196.9C1321.6,197.6 1322.9,203 1322.9,205.6C1323,208.1 1320.9,209.6 1319.8,212.5C1318.6,215.3 1317.6,222.5 1315.9,222.6Z" fill="#dfe9f4" fill-opacity="0.81"/><path d="M1419.9,177.8C1417.6,177.9 1413.4,172.5 1412.5,168.9C1411.5,165.3 1412.8,159.1 1414.1,156.1C1415.3,153.1 1417.9,153.4 1420.1,151C1422.2,148.6 1424.8,141.7 1427.1,141.8C1429.4,141.9 1432.5,147.8 1433.9,151.8C1435.4,155.7 1437.2,162.9 1435.9,165.5C1434.7,168.2 1429,165.7 1426.3,167.8C1423.6,169.8 1422.2,177.6 1419.9,177.8Z" fill="#dfe9f4" fill-opacity="0.53"/><path d="M1269.9,216.5C1270.1,212.1 1271.5,201.8 1274.3,200.9C1277.1,200.1 1284,208.2 1286.8,211.4C1289.6,214.7 1291.3,216.6 1291.2,220.2C1291.1,223.9 1289.3,232 1286.3,233.2C1283.2,234.5 1275.7,230.4 1272.9,227.6C1270.2,224.9 1269.6,221 1269.9,216.5Z" fill="#e9f0f8" fill-opacity="0.73"/><path d="M1263.7,245.8C1264.6,249.1 1264.3,252.4 1262.1,255.8C1259.8,259.3 1253.6,267 1250,266.5C1246.4,266 1240.6,256.7 1240.3,252.9C1240.1,249.1 1245.7,246.5 1248.5,243.7C1251.2,240.9 1254.5,235.7 1257.1,236.1C1259.6,236.4 1262.9,242.5 1263.7,245.8Z" fill="#ffffff" fill-opacity="0.68"/><path d="M1341.8,260.8C1346.6,261.4 1357.4,260.2 1359.4,262.4C1361.3,264.7 1356.3,271.5 1353.6,274.1C1350.9,276.8 1346.5,276.4 1343.3,278.4C1340.1,280.5 1337.5,286.3 1334.5,286.4C1331.5,286.5 1328.4,281.5 1325.1,279.2C1321.8,277 1315.4,275.4 1314.6,272.8C1313.9,270.3 1317.8,266.1 1320.5,263.7C1323.2,261.4 1327.1,259.1 1330.6,258.6C1334.2,258.1 1337,260.1 1341.8,260.8Z" fill="#dfe9f4" fill-opacity="0.73"/><path d="M1392.8,239.5C1393.5,242.5 1392.3,247.2 1389.5,249.3C1386.6,251.5 1379.8,252.5 1375.8,252.5C1371.7,252.5 1367.3,250.6 1365.1,249.1C1362.9,247.6 1365,245.3 1362.5,243.3C1360.1,241.3 1351,239.2 1350.6,237C1350.2,234.8 1356.2,231.3 1359.9,230C1363.6,228.7 1368.4,228.9 1372.6,229.1C1376.9,229.4 1381.8,229.7 1385.1,231.4C1388.5,233.1 1392,236.5 1392.8,239.5Z" fill="#f4f8fc" fill-opacity="0.88"/><path d="M1403.1,117.5C1404.9,116.7 1406.4,115.1 1407.8,115.4C1409.1,115.7 1410.5,118 1410.9,119.3C1411.4,120.6 1410.3,121.3 1410.4,123.1C1410.5,125 1412.5,129.3 1411.4,130.5C1410.4,131.7 1405.6,131.1 1404,130.1C1402.5,129.1 1403,126.3 1401.9,124.6C1400.7,122.9 1396.8,121.2 1397,120.1C1397.2,118.9 1401.3,118.3 1403.1,117.5Z" fill="#ffffff" fill-opacity="0.78"/><path d="M1334.7,219.9C1331.4,219.6 1325,214.3 1323.7,209.7C1322.5,205 1325.1,196.4 1327.3,191.9C1329.4,187.4 1333.4,182.8 1336.6,182.5C1339.7,182.1 1343.4,186.4 1345.9,189.7C1348.5,193 1352.1,198.7 1351.7,202.3C1351.3,205.9 1346.4,208.3 1343.6,211.3C1340.8,214.2 1338,220.2 1334.7,219.9Z" fill="#dfe9f4" fill-opacity="0.85"/><path d="M1369.8,211.8C1367.8,209.5 1369.2,204.8 1368.3,201.6C1367.5,198.4 1364.8,196.3 1364.9,192.4C1365,188.6 1366,179.6 1368.9,178.4C1371.7,177.2 1377.2,184 1382,185.1C1386.8,186.1 1394.9,182.1 1397.8,184.6C1400.6,187.1 1400.4,195.9 1399.1,200.1C1397.8,204.2 1393.1,207.1 1390,209.7C1386.9,212.3 1383.7,215.1 1380.4,215.5C1377,215.8 1371.8,214.1 1369.8,211.8Z" fill="#e9f0f8" fill-opacity="0.73"/><path d="M1179.9,114.8C1183.7,115.3 1185.6,118.7 1188.8,120.7C1191.9,122.8 1198.3,124.6 1198.9,127.1C1199.5,129.6 1195.3,133.9 1192.3,136C1189.2,138.1 1185.2,139.1 1180.6,139.7C1176,140.3 1166.4,141.6 1164.6,139.6C1162.8,137.6 1169.3,131.3 1169.6,127.6C1169.8,123.8 1164.3,119.3 1166,117.2C1167.7,115 1176.1,114.2 1179.9,114.8Z" fill="#ffffff" fill-opacity="0.74"/><path d="M1245.3,260.7C1241.8,260.4 1237.6,252.3 1236.8,248C1236,243.7 1238.6,238.4 1240.3,234.7C1242.1,230.9 1244.1,228.5 1247.1,225.6C1250.2,222.6 1254.4,217.1 1258.6,216.8C1262.8,216.5 1269.9,219.9 1272.5,223.6C1275.2,227.3 1275.7,235.2 1274.3,239.1C1272.8,242.9 1266.6,244.8 1263.8,246.6C1261.1,248.4 1260.8,247.5 1257.7,249.8C1254.6,252.2 1248.8,261 1245.3,260.7Z" fill="#e9f0f8" fill-opacity="0.80"/><path d="M1302,207C1300.8,210.2 1297.6,215.9 1294.4,216.4C1291.2,216.9 1284.9,213.6 1282.7,210.1C1280.4,206.6 1279,198.6 1280.8,195.6C1282.5,192.6 1289.8,191.7 1293.2,192C1296.7,192.3 1299.8,195 1301.3,197.5C1302.8,200 1303.2,203.9 1302,207Z" fill="#ffffff" fill-opacity="0.88"/><path d="M1258.1,191.3C1259.1,190 1263.2,189.6 1265,190.1C1266.8,190.6 1268.1,193 1268.9,194.4C1269.6,195.7 1268.7,196.4 1269.2,198.2C1269.8,200.1 1272.8,204.1 1272.1,205.4C1271.3,206.8 1266.6,207.2 1264.9,206.5C1263.1,205.8 1262.7,202.6 1261.8,201.2C1261,199.8 1260.1,199.8 1259.5,198.2C1258.9,196.5 1257.2,192.7 1258.1,191.3Z" fill="#e9f0f8" fill-opacity="0.66"/><path d="M1168.6,81C1171.7,79.3 1176.9,74.2 1178.8,75.6C1180.8,77 1179.6,85.4 1180.1,89.3C1180.7,93.2 1182.9,96.5 1182,99C1181.1,101.4 1177.4,103 1174.8,104C1172.3,105 1169.6,105.7 1166.8,104.8C1163.9,103.8 1158.5,101.6 1157.5,98.4C1156.5,95.2 1158.8,88.7 1160.6,85.8C1162.5,82.9 1165.6,82.7 1168.6,81Z" fill="#e9f0f8" fill-opacity="0.84"/><path d="M1337,284.3C1338.6,284.9 1339.1,291.1 1339.7,293.5C1340.2,295.9 1340.5,296.7 1340.5,298.8C1340.4,300.9 1340.7,304.5 1339.2,306.2C1337.8,307.9 1333.6,309.6 1331.5,308.9C1329.4,308.2 1327.8,304.5 1326.6,302.1C1325.5,299.7 1324,296.6 1324.6,294.6C1325.1,292.6 1328,291.6 1330.1,289.9C1332.2,288.2 1335.4,283.7 1337,284.3Z" fill="#f4f8fc" fill-opacity="0.74"/><path d="M1388.7,133.2C1392.5,135.8 1396.7,146.5 1396.1,152.3C1395.5,158.1 1390.1,165.4 1385.2,168.2C1380.3,171.1 1369.3,172.5 1366.8,169.3C1364.3,166.1 1369.1,154.4 1370.3,149C1371.4,143.6 1370.5,139.5 1373.6,136.9C1376.7,134.2 1385,130.6 1388.7,133.2Z" fill="#dfe9f4" fill-opacity="0.65"/><path d="M1339.3,239.1C1341,241.7 1340.9,251.6 1339.4,254.4C1337.8,257.2 1332.7,256.2 1330.1,256C1327.5,255.7 1325.7,255.5 1323.8,252.9C1322,250.2 1318.3,242.4 1319.2,240.1C1320.2,237.7 1326.2,239.2 1329.5,239C1332.9,238.9 1337.7,236.5 1339.3,239.1Z" fill="#dfe9f4" fill-opacity="0.53"/><path d="M1379.9,133C1378.5,132.1 1376.6,132.9 1375.8,131.8C1375,130.7 1374.6,127.7 1375.1,126.4C1375.6,125 1377.7,124.1 1378.9,123.6C1380.2,123.1 1381.6,122.8 1382.6,123.2C1383.7,123.6 1385,124.9 1385.4,126.1C1385.9,127.2 1385.4,128.4 1385.3,130.2C1385.2,132 1385.6,136.4 1384.8,136.9C1383.9,137.3 1381.4,133.8 1379.9,133Z" fill="#f4f8fc" fill-opacity="0.64"/><path d="M1224.4,187.8C1227,188.9 1228.7,192 1230.3,194.7C1231.9,197.3 1234.1,200.3 1233.8,203.4C1233.6,206.5 1231.7,209.9 1228.9,213C1226,216 1220.9,221.6 1216.7,221.7C1212.5,221.8 1207,217 1203.7,213.7C1200.3,210.4 1196.1,205.4 1196.7,202C1197.3,198.5 1204.2,195.4 1207.2,193C1210.2,190.7 1211.8,188.9 1214.7,188C1217.5,187.1 1221.8,186.6 1224.4,187.8Z" fill="#dfe9f4" fill-opacity="0.78"/><path d="M1271.1,212.9C1272.1,212.1 1274.8,213.9 1276.2,214.9C1277.6,215.8 1278.6,217.1 1279.4,218.6C1280.2,220.1 1281,221.8 1281.1,223.9C1281.2,226 1281.2,229.3 1280.1,231.1C1278.9,232.9 1276.2,234.6 1274.3,234.7C1272.3,234.8 1269.7,233.2 1268.2,231.6C1266.8,229.9 1265.1,226.6 1265.4,224.6C1265.8,222.7 1269.4,221.9 1270.4,220C1271.3,218 1270.2,213.8 1271.1,212.9Z" fill="#dfe9f4" fill-opacity="0.61"/><path d="M1241.5,293.1C1242.3,297 1248.1,305 1247,306.3C1245.8,307.7 1237.6,302.1 1234.6,301.2C1231.5,300.2 1230.6,301.6 1228.7,300.5C1226.9,299.3 1224.2,297.1 1223.5,294.3C1222.7,291.6 1222.4,285.3 1224.2,283.7C1225.9,282.1 1230.6,285 1233.7,284.9C1236.7,284.8 1241.2,281.7 1242.5,283.1C1243.8,284.5 1240.8,289.2 1241.5,293.1Z" fill="#e9f0f8" fill-opacity="0.52"/><path d="M1424.9,163C1427.1,162 1430.3,161.4 1433.3,162.7C1436.3,164.1 1442.2,167.4 1443,171C1443.8,174.7 1440.3,180.6 1438.4,184.7C1436.4,188.8 1434.7,193.2 1431.5,195.5C1428.4,197.8 1423,199.8 1419.4,198.5C1415.9,197.2 1411.4,192.1 1410,187.9C1408.6,183.7 1409.3,176.4 1411,173.2C1412.7,170.1 1418,170.5 1420.3,168.8C1422.6,167.1 1422.7,164 1424.9,163Z" fill="#ffffff" fill-opacity="0.73"/><path d="M1374.2,282C1374.5,285.1 1373.4,288.2 1370.9,291.1C1368.4,294 1361.8,300.5 1359.2,299.4C1356.7,298.4 1355.6,288.8 1355.6,284.9C1355.7,281 1357.3,278 1359.6,275.9C1361.8,273.8 1366.7,271.5 1369.2,272.5C1371.6,273.5 1373.9,278.9 1374.2,282Z" fill="#f4f8fc" fill-opacity="0.80"/><path d="M1402.9,211.6C1404.8,214.3 1401.8,218.8 1399.9,221.1C1398,223.4 1394.4,224.8 1391.5,225.6C1388.6,226.4 1386.7,225.5 1382.6,225.8C1378.4,226 1370.3,228.6 1366.5,227.2C1362.7,225.7 1358.3,219.6 1359.8,217.1C1361.2,214.6 1370.5,214.1 1375.3,212C1380.1,209.9 1383.8,204.8 1388.4,204.7C1393,204.7 1401,208.9 1402.9,211.6Z" fill="#dfe9f4" fill-opacity="0.76"/><path d="M1335.5,160.7C1339.1,158.7 1342.6,157.6 1345.9,157.6C1349.2,157.5 1352.6,159.2 1355.1,160.6C1357.5,162.1 1360.2,163.8 1360.7,166.3C1361.2,168.8 1361.1,174.6 1357.9,175.9C1354.8,177.2 1347.5,175.2 1341.9,174.2C1336.3,173.2 1325.3,172.3 1324.2,170C1323.2,167.8 1331.9,162.8 1335.5,160.7Z" fill="#dfe9f4" fill-opacity="0.70"/><path d="M1361.6,111.5C1359.5,115.6 1355.1,118.2 1351.4,118.9C1347.7,119.5 1340.8,118 1339.3,115.5C1337.8,112.9 1340.9,106.2 1342.4,103.4C1344,100.5 1344.9,100 1348.5,98.4C1352.1,96.8 1361.9,91.7 1364,93.9C1366.2,96 1363.7,107.3 1361.6,111.5Z" fill="#dfe9f4" fill-opacity="0.87"/><path d="M1261.9,156C1261.7,154.1 1264,151.6 1265,149.1C1266,146.7 1266,142.7 1267.7,141.5C1269.5,140.3 1274.6,140 1275.5,142C1276.4,144 1273.7,150.4 1273.1,153.5C1272.5,156.6 1272.8,159.7 1271.7,160.8C1270.7,162 1268.3,161.1 1266.7,160.2C1265,159.4 1262.2,157.8 1261.9,156Z" fill="#f4f8fc" fill-opacity="0.58"/></g></g></g></g>
<g id="bottle"><path d="M1001,104C993.2,105.3 994.6,111.4 990,116C985.4,120.6 978.6,124.8 973.4,131.5C968.2,138.2 961.6,148.6 958.7,156C955.8,163.4 957.1,169 956,176C954.9,183 953.4,189.4 952.2,198C951,206.6 950.5,219.2 949,227.7C947.5,236.2 944.6,240 943.2,249C941.8,258 942.4,272.3 940.8,281.5C939.2,290.7 935,297.1 933.5,304.4C932,311.6 931.1,319.6 931.5,325C931.9,330.4 933.1,334.2 936,337C938.9,339.8 944.9,341.2 948.9,342C952.9,342.8 957.4,340.3 960.3,341.5C963.1,342.7 963.7,346.8 966,349C968.3,351.2 971.2,354 974,354.5C976.8,355 980.5,353.1 983,352C985.5,350.9 987,347.1 989,347.6C991,348.1 992.5,353.2 995,355C997.5,356.8 1001,358.2 1004,358.5C1007,358.8 1009.7,358.4 1013,357C1016.3,355.6 1020.9,353.1 1023.9,350C1026.9,346.9 1029.5,344.6 1031,338.6C1032.5,332.6 1032,322.1 1032.9,314.2C1033.8,306.3 1034.7,299.5 1036.2,291.3C1037.7,283.1 1040.7,272.3 1041.9,265.2C1043.1,258.1 1042,255.7 1043.5,248.9C1045,242.1 1049.3,232.7 1050.9,224.5C1052.5,216.3 1052.8,206.1 1053.3,200C1053.8,193.9 1053.7,194 1054,188C1054.3,182 1055.4,170.9 1055,164.2C1054.6,157.5 1053.5,153 1051.7,147.8C1049.9,142.6 1046.2,137.1 1044,133C1041.8,128.9 1039.8,127.6 1038.6,123.4C1037.4,119.2 1043.3,111.2 1037,108C1030.7,104.8 1008.8,102.7 1001,104Z" fill="#f6f8fa"/><clipPath id="cbb"><path d="M1001,104C993.2,105.3 994.6,111.4 990,116C985.4,120.6 978.6,124.8 973.4,131.5C968.2,138.2 961.6,148.6 958.7,156C955.8,163.4 957.1,169 956,176C954.9,183 953.4,189.4 952.2,198C951,206.6 950.5,219.2 949,227.7C947.5,236.2 944.6,240 943.2,249C941.8,258 942.4,272.3 940.8,281.5C939.2,290.7 935,297.1 933.5,304.4C932,311.6 931.1,319.6 931.5,325C931.9,330.4 933.1,334.2 936,337C938.9,339.8 944.9,341.2 948.9,342C952.9,342.8 957.4,340.3 960.3,341.5C963.1,342.7 963.7,346.8 966,349C968.3,351.2 971.2,354 974,354.5C976.8,355 980.5,353.1 983,352C985.5,350.9 987,347.1 989,347.6C991,348.1 992.5,353.2 995,355C997.5,356.8 1001,358.2 1004,358.5C1007,358.8 1009.7,358.4 1013,357C1016.3,355.6 1020.9,353.1 1023.9,350C1026.9,346.9 1029.5,344.6 1031,338.6C1032.5,332.6 1032,322.1 1032.9,314.2C1033.8,306.3 1034.7,299.5 1036.2,291.3C1037.7,283.1 1040.7,272.3 1041.9,265.2C1043.1,258.1 1042,255.7 1043.5,248.9C1045,242.1 1049.3,232.7 1050.9,224.5C1052.5,216.3 1052.8,206.1 1053.3,200C1053.8,193.9 1053.7,194 1054,188C1054.3,182 1055.4,170.9 1055,164.2C1054.6,157.5 1053.5,153 1051.7,147.8C1049.9,142.6 1046.2,137.1 1044,133C1041.8,128.9 1039.8,127.6 1038.6,123.4C1037.4,119.2 1043.3,111.2 1037,108C1030.7,104.8 1008.8,102.7 1001,104Z"/></clipPath><g clip-path="url(#cbb)"><path d="M1012,100C1011.6,101.8 1012.1,106.8 1009.5,111C1006.9,115.2 1001.2,119 996.5,125C991.8,131 985.2,139.7 981.5,147C977.8,154.3 976,161.7 974,169C972,176.3 971.1,181.3 969.5,190.6C967.9,199.9 966.3,213 964.5,225C962.7,237 960.8,250 958.5,262.5C956.2,275 952.9,289.1 950.5,300C948.1,310.9 944.8,321.6 944,328.1C943.2,334.6 944.7,336 946,339C947.3,342 951,344.8 952,346L960,370L1070,370L1070,100 Z" fill="#b3d0e8"/></g><path d="M1001,104C993.2,105.3 994.6,111.4 990,116C985.4,120.6 978.6,124.8 973.4,131.5C968.2,138.2 961.6,148.6 958.7,156C955.8,163.4 957.1,169 956,176C954.9,183 953.4,189.4 952.2,198C951,206.6 950.5,219.2 949,227.7C947.5,236.2 944.6,240 943.2,249C941.8,258 942.4,272.3 940.8,281.5C939.2,290.7 935,297.1 933.5,304.4C932,311.6 931.1,319.6 931.5,325C931.9,330.4 933.1,334.2 936,337C938.9,339.8 944.9,341.2 948.9,342C952.9,342.8 957.4,340.3 960.3,341.5C963.1,342.7 963.7,346.8 966,349C968.3,351.2 971.2,354 974,354.5C976.8,355 980.5,353.1 983,352C985.5,350.9 987,347.1 989,347.6C991,348.1 992.5,353.2 995,355C997.5,356.8 1001,358.2 1004,358.5C1007,358.8 1009.7,358.4 1013,357C1016.3,355.6 1020.9,353.1 1023.9,350C1026.9,346.9 1029.5,344.6 1031,338.6C1032.5,332.6 1032,322.1 1032.9,314.2C1033.8,306.3 1034.7,299.5 1036.2,291.3C1037.7,283.1 1040.7,272.3 1041.9,265.2C1043.1,258.1 1042,255.7 1043.5,248.9C1045,242.1 1049.3,232.7 1050.9,224.5C1052.5,216.3 1052.8,206.1 1053.3,200C1053.8,193.9 1053.7,194 1054,188C1054.3,182 1055.4,170.9 1055,164.2C1054.6,157.5 1053.5,153 1051.7,147.8C1049.9,142.6 1046.2,137.1 1044,133C1041.8,128.9 1039.8,127.6 1038.6,123.4C1037.4,119.2 1043.3,111.2 1037,108C1030.7,104.8 1008.8,102.7 1001,104Z" fill="none" stroke="#1d1d1a" stroke-width="7.2" stroke-linecap="round" stroke-linejoin="round"/><path d="M968.5,176.4Q996,190.5 1032.1,188.6" fill="none" stroke="#3c76b6" stroke-width="5.4" stroke-linecap="round" stroke-linejoin="round"/><path d="M962,226.1Q988,239 1025.6,238.3" fill="none" stroke="#3c76b6" stroke-width="5.4" stroke-linecap="round" stroke-linejoin="round"/><path d="M1008,73.5L1043,78.2Q1047.5,79 1047.3,83.5L1046.3,101Q1046,106 1041,105.2L1003.5,99.3Q999,98.5 999.8,94L1003.5,77Q1004.3,73 1008,73.5Z" fill="#5b93cf"/><path d="M1006.5,77L1044,82L1043.8,84.5L1006,80Z" fill="#f4f8fc"/><path d="M1008,73.5L1043,78.2Q1047.5,79 1047.3,83.5L1046.3,101Q1046,106 1041,105.2L1003.5,99.3Q999,98.5 999.8,94L1003.5,77Q1004.3,73 1008,73.5Z" fill="none" stroke="#1d1d1a" stroke-width="7.2" stroke-linecap="round" stroke-linejoin="round"/></g>
<g id="pet-underline"><path d="M1208.3,397.7Q1320,396.6 1426.5,397.8" fill="none" stroke="#6496c8" stroke-width="8.6" stroke-linecap="round" stroke-linejoin="round"/></g>
<g id="arrows"><path d="M1120.2,95.7Q1108,117 1091,132.8" fill="none" stroke="#1d1d1a" stroke-width="6.2" stroke-linecap="round" stroke-linejoin="round"/><path d="M1091,133.2Q1112,127 1134,124.2" fill="none" stroke="#1d1d1a" stroke-width="6.2" stroke-linecap="round" stroke-linejoin="round"/><path d="M1091,133.6Q1108,141 1128.3,144.6" fill="none" stroke="#1d1d1a" stroke-width="6.2" stroke-linecap="round" stroke-linejoin="round"/><path d="M1070.3,313C1072.8,314.4 1080.3,318.2 1085,321.5C1089.7,324.8 1094.7,328.9 1098.6,333C1102.5,337.1 1105.6,341.4 1108.5,346C1111.4,350.6 1114,355.6 1116.2,360.3C1118.5,365 1120.4,369.4 1122,374C1123.6,378.6 1124.9,383 1126,387.7C1127.1,392.4 1127.9,397.3 1128.5,402C1129.1,406.7 1129.6,413.7 1129.8,416" fill="none" stroke="#1d1d1a" stroke-width="5.8" stroke-linecap="round" stroke-linejoin="round"/><path d="M1102.5,390.6Q1116,402 1129.6,417.2" fill="none" stroke="#1d1d1a" stroke-width="5.8" stroke-linecap="round" stroke-linejoin="round"/><path d="M1142,381.4Q1136,398 1130,417.2" fill="none" stroke="#1d1d1a" stroke-width="5.8" stroke-linecap="round" stroke-linejoin="round"/><path d="M938.2,455.7C938.2,458.1 938.6,465.1 938,470C937.4,474.9 936.5,479.2 934.3,485C932,490.8 928.9,498.5 924.5,504.5C920.1,510.5 910.7,518.3 907.9,521.1" fill="none" stroke="#1d1d1a" stroke-width="5.8" stroke-linecap="round" stroke-linejoin="round"/><path d="M645.1,552.3C645,553.8 644.3,558 644.2,561C644.1,564 644.1,567 644.7,570C645.3,573 646.4,576.1 647.6,578.8C648.8,581.5 650.1,583.8 652,586.1C653.8,588.4 656.1,590.8 658.6,592.7C661,594.7 663.8,596.4 666.6,597.8C669.4,599.3 672.3,600.5 675.4,601.5C678.5,602.6 683.7,603.7 685.4,604.1" fill="none" stroke="#1d1d1a" stroke-width="5.8" stroke-linecap="round" stroke-linejoin="round"/><path d="M673.2,584.4L679.1,593.4L685.7,604.6" fill="none" stroke="#1d1d1a" stroke-width="5.8" stroke-linecap="round" stroke-linejoin="round"/><path d="M660,605.2L685.7,604.9" fill="none" stroke="#1d1d1a" stroke-width="5.8" stroke-linecap="round" stroke-linejoin="round"/><path d="M1392.8,553.2C1393.3,554.8 1395,559.3 1395.6,562.5C1396.2,565.7 1396.5,568.9 1396.4,572.3C1396.3,575.7 1395.6,579.6 1394.8,583C1394,586.4 1392.9,589.4 1391.4,592.8C1389.9,596.2 1388,600.1 1386,603.5C1384,606.9 1382,610.1 1379.7,613.3C1377.5,616.5 1374.8,619.6 1372.5,622.5C1370.2,625.4 1366.8,629.2 1365.6,630.5" fill="none" stroke="#1d1d1a" stroke-width="6.2" stroke-linecap="round" stroke-linejoin="round"/><path d="M1366.7,600L1365.5,631.2" fill="none" stroke="#1d1d1a" stroke-width="6.2" stroke-linecap="round" stroke-linejoin="round"/><path d="M1392.3,621.3L1366,631.2" fill="none" stroke="#1d1d1a" stroke-width="6.2" stroke-linecap="round" stroke-linejoin="round"/></g>
<g id="conveyor"><path d="M647.5,724L647.5,757.7M634.3,757.7L661.4,757.7" fill="none" stroke="#1d1d1a" stroke-width="6" stroke-linecap="round" stroke-linejoin="round"/><path d="M707.4,664L707.4,726.5M694.6,727L722.9,727" fill="none" stroke="#1d1d1a" stroke-width="6" stroke-linecap="round" stroke-linejoin="round"/><path d="M551,725.4L612.2,726.2L723.8,620.5Q731.5,611 736,597L741,600L742.8,630.1L611,755.5Q608,758.5 603,758.5L551,758.5A16.5,16.5 0 0 1 551,725.4Z" fill="#b8b8b5"/><path d="M621,728.5L727,628Q733,620 736.5,606" fill="none" stroke="#dcdcda" stroke-width="2.4" stroke-linecap="round" stroke-linejoin="round"/><path d="M592.7,724.3L662,660L676,668L612.2,727.2Z" fill="#69a0d8"/><path d="M741,602L777,602L777,627L741,627Z" fill="#b8b8b5"/><path d="M743,594L777,594L777,602L743,602Z" fill="#f0f0ee"/><path d="M612.2,725.6L551,725.4A16.5,16.5 0 0 0 551,758.4L603,758.4Q608,758.4 611.5,755.2L742.8,630.1L742.8,628L776.5,627.9" fill="none" stroke="#1d1d1a" stroke-width="6.6" stroke-linecap="round" stroke-linejoin="round"/><path d="M592.7,722.3L662,660.2" fill="none" stroke="#1d1d1a" stroke-width="6" stroke-linecap="round" stroke-linejoin="round"/><path d="M612.2,726.2L723.8,620.5Q730.5,612.5 733.5,603" fill="none" stroke="#1d1d1a" stroke-width="5.8" stroke-linecap="round" stroke-linejoin="round"/><path d="M724.5,611.5Q729,596.5 738.4,592.2Q742,591.5 747,591.6L776.5,591.9" fill="none" stroke="#1d1d1a" stroke-width="6" stroke-linecap="round" stroke-linejoin="round"/><path d="M740.8,596.4L740.8,628.4" fill="none" stroke="#1d1d1a" stroke-width="6" stroke-linecap="round" stroke-linejoin="round"/><circle cx="556.3" cy="743.8" r="6.6" fill="#fbfaf5" stroke="#1d1d1a" stroke-width="5.6"/><circle cx="594.6" cy="743.8" r="6.6" fill="#fbfaf5" stroke="#1d1d1a" stroke-width="5.6"/><path d="M542,705.7C540,703.3 538.8,696.8 537.6,693.3C536.4,689.7 535.8,687.4 534.7,684.5C533.6,681.5 530.7,678.4 531,675.7C531.2,673 533.1,670.5 536.1,668.4C539.2,666.2 544.7,664.4 549.3,662.5C553.9,660.5 559.1,658.5 564,656.6C568.8,654.8 573.7,653 578.6,651.5C583.5,650 588.4,648.7 593.3,647.8C598.1,647 604,646.5 607.9,646.4C611.8,646.2 614.5,647.5 616.7,646.8C618.9,646.1 619.1,643.3 621.1,642.3C623.1,641.2 626,639.8 628.4,640.5C630.9,641.2 633.9,643.4 635.8,646.4C637.6,649.3 639.4,655.3 639.4,658.1C639.4,660.9 637.7,662.4 635.8,662.9C633.8,663.5 629.9,660.1 627.7,661.5C625.5,662.9 624.4,668.7 622.6,671.3C620.7,673.9 619.1,675.2 616.7,677.1C614.3,679.1 611.3,681.2 607.9,683C604.5,684.8 599.9,686.7 596.2,688.1C592.5,689.6 589.6,690.5 585.9,691.8C582.3,693.1 577.9,694.7 574.2,696.2C570.5,697.7 566.9,699.1 564,700.6C561,702.1 559.1,703.8 556.6,705C554.2,706.2 551.7,707.8 549.3,707.9C546.9,708 543.9,708.2 542,705.7Z" fill="#f7f9fb"/><clipPath id="cb1"><path d="M542,705.7C540,703.3 538.8,696.8 537.6,693.3C536.4,689.7 535.8,687.4 534.7,684.5C533.6,681.5 530.7,678.4 531,675.7C531.2,673 533.1,670.5 536.1,668.4C539.2,666.2 544.7,664.4 549.3,662.5C553.9,660.5 559.1,658.5 564,656.6C568.8,654.8 573.7,653 578.6,651.5C583.5,650 588.4,648.7 593.3,647.8C598.1,647 604,646.5 607.9,646.4C611.8,646.2 614.5,647.5 616.7,646.8C618.9,646.1 619.1,643.3 621.1,642.3C623.1,641.2 626,639.8 628.4,640.5C630.9,641.2 633.9,643.4 635.8,646.4C637.6,649.3 639.4,655.3 639.4,658.1C639.4,660.9 637.7,662.4 635.8,662.9C633.8,663.5 629.9,660.1 627.7,661.5C625.5,662.9 624.4,668.7 622.6,671.3C620.7,673.9 619.1,675.2 616.7,677.1C614.3,679.1 611.3,681.2 607.9,683C604.5,684.8 599.9,686.7 596.2,688.1C592.5,689.6 589.6,690.5 585.9,691.8C582.3,693.1 577.9,694.7 574.2,696.2C570.5,697.7 566.9,699.1 564,700.6C561,702.1 559.1,703.8 556.6,705C554.2,706.2 551.7,707.8 549.3,707.9C546.9,708 543.9,708.2 542,705.7Z"/></clipPath><g clip-path="url(#cb1)"><path d="M537.6,681.5C539.5,677.3 544.9,677.9 549.3,676.4C553.7,674.9 559.6,674.1 564,672.7C568.4,671.4 571.5,669.8 575.7,668.4C579.8,666.9 584.5,665.3 588.9,664C593.3,662.6 597.9,661.5 602.1,660.3C606.2,659.1 610.4,657.5 613.8,656.6C617.2,655.8 620.6,653.2 622.6,655.2C624.5,657.1 627.9,663.5 625.5,668.4C623.1,673.2 618.2,678.9 607.9,684.5C597.7,690.1 574.2,697.9 564,702.1C553.7,706.2 550.8,709.4 546.4,709.4C542,709.4 539,706.7 537.6,702.1C536.1,697.4 535.6,685.8 537.6,681.5Z" fill="#b3d0e8"/></g><path d="M565.7,668.6L579.3,690.6" fill="none" stroke="#3572b5" stroke-width="4.4" stroke-linecap="round" stroke-linejoin="round"/><path d="M587,664.2L595.5,682.3" fill="none" stroke="#3572b5" stroke-width="4.4" stroke-linecap="round" stroke-linejoin="round"/><path d="M625.8,646.7L630.2,646.1L634.6,656.9L629.6,658.7Z" fill="#5b93cf"/><path d="M542,705.7C540,703.3 538.8,696.8 537.6,693.3C536.4,689.7 535.8,687.4 534.7,684.5C533.6,681.5 530.7,678.4 531,675.7C531.2,673 533.1,670.5 536.1,668.4C539.2,666.2 544.7,664.4 549.3,662.5C553.9,660.5 559.1,658.5 564,656.6C568.8,654.8 573.7,653 578.6,651.5C583.5,650 588.4,648.7 593.3,647.8C598.1,647 604,646.5 607.9,646.4C611.8,646.2 614.5,647.5 616.7,646.8C618.9,646.1 619.1,643.3 621.1,642.3C623.1,641.2 626,639.8 628.4,640.5C630.9,641.2 633.9,643.4 635.8,646.4C637.6,649.3 639.4,655.3 639.4,658.1C639.4,660.9 637.7,662.4 635.8,662.9C633.8,663.5 629.9,660.1 627.7,661.5C625.5,662.9 624.4,668.7 622.6,671.3C620.7,673.9 619.1,675.2 616.7,677.1C614.3,679.1 611.3,681.2 607.9,683C604.5,684.8 599.9,686.7 596.2,688.1C592.5,689.6 589.6,690.5 585.9,691.8C582.3,693.1 577.9,694.7 574.2,696.2C570.5,697.7 566.9,699.1 564,700.6C561,702.1 559.1,703.8 556.6,705C554.2,706.2 551.7,707.8 549.3,707.9C546.9,708 543.9,708.2 542,705.7Z" fill="none" stroke="#1d1d1a" stroke-width="6.4" stroke-linecap="round" stroke-linejoin="round"/><path d="M618.5,647.8L627.7,661.8" fill="none" stroke="#1d1d1a" stroke-width="5.4" stroke-linecap="round" stroke-linejoin="round"/><path d="M655.6,661.6C653.1,660 650.6,657.5 649,655C647.5,652.4 646.2,648.9 646.1,646.2C646,643.5 647.1,640.8 648.3,638.9C649.5,636.9 650.9,635.8 653.4,634.5C656,633.1 660.3,631.9 663.7,630.8C667.1,629.7 671,629.1 674,627.9C676.9,626.7 678.8,624.7 681.3,623.5C683.7,622.3 686.4,621 688.6,620.5C690.8,620.1 692.5,620.4 694.5,620.5C696.4,620.7 698.2,621.6 700.3,621.6C702.5,621.6 706,622.1 707.4,620.7C708.7,619.3 706.9,615.4 708.4,613.2C709.9,611.1 713.9,608.5 716.4,607.8C719,607.1 722.1,608 723.8,609.3C725.5,610.5 726.9,613.4 726.7,615.4C726.5,617.5 725,619.3 722.6,621.6C720.2,623.8 716,625.8 712.1,628.9C708.1,632 703.3,636.5 698.9,640.3C694.5,644.2 690.1,648.1 685.7,652.1C681.3,656 676,661.7 672.5,663.8C668.9,665.8 667.2,664.9 664.4,664.5C661.6,664.1 658.2,663.2 655.6,661.6Z" fill="#f7f9fb"/><clipPath id="cb2"><path d="M655.6,661.6C653.1,660 650.6,657.5 649,655C647.5,652.4 646.2,648.9 646.1,646.2C646,643.5 647.1,640.8 648.3,638.9C649.5,636.9 650.9,635.8 653.4,634.5C656,633.1 660.3,631.9 663.7,630.8C667.1,629.7 671,629.1 674,627.9C676.9,626.7 678.8,624.7 681.3,623.5C683.7,622.3 686.4,621 688.6,620.5C690.8,620.1 692.5,620.4 694.5,620.5C696.4,620.7 698.2,621.6 700.3,621.6C702.5,621.6 706,622.1 707.4,620.7C708.7,619.3 706.9,615.4 708.4,613.2C709.9,611.1 713.9,608.5 716.4,607.8C719,607.1 722.1,608 723.8,609.3C725.5,610.5 726.9,613.4 726.7,615.4C726.5,617.5 725,619.3 722.6,621.6C720.2,623.8 716,625.8 712.1,628.9C708.1,632 703.3,636.5 698.9,640.3C694.5,644.2 690.1,648.1 685.7,652.1C681.3,656 676,661.7 672.5,663.8C668.9,665.8 667.2,664.9 664.4,664.5C661.6,664.1 658.2,663.2 655.6,661.6Z"/></clipPath><g clip-path="url(#cb2)"><path d="M652,646.2L659.3,641.8L668.1,643.3L676.9,644L681.3,637.4L691.5,633L700.3,633L709.1,628.6L712.1,631.5L674,665.2L652,660.8Z" fill="#b3d0e8"/></g><path d="M712.8,615.4L719.4,612.5L723,615.4L716.4,623Z" fill="#5b93cf"/><path d="M655.6,661.6C653.1,660 650.6,657.5 649,655C647.5,652.4 646.2,648.9 646.1,646.2C646,643.5 647.1,640.8 648.3,638.9C649.5,636.9 650.9,635.8 653.4,634.5C656,633.1 660.3,631.9 663.7,630.8C667.1,629.7 671,629.1 674,627.9C676.9,626.7 678.8,624.7 681.3,623.5C683.7,622.3 686.4,621 688.6,620.5C690.8,620.1 692.5,620.4 694.5,620.5C696.4,620.7 698.2,621.6 700.3,621.6C702.5,621.6 706,622.1 707.4,620.7C708.7,619.3 706.9,615.4 708.4,613.2C709.9,611.1 713.9,608.5 716.4,607.8C719,607.1 722.1,608 723.8,609.3C725.5,610.5 726.9,613.4 726.7,615.4C726.5,617.5 725,619.3 722.6,621.6C720.2,623.8 716,625.8 712.1,628.9C708.1,632 703.3,636.5 698.9,640.3C694.5,644.2 690.1,648.1 685.7,652.1C681.3,656 676,661.7 672.5,663.8C668.9,665.8 667.2,664.9 664.4,664.5C661.6,664.1 658.2,663.2 655.6,661.6Z" fill="none" stroke="#1d1d1a" stroke-width="6.4" stroke-linecap="round" stroke-linejoin="round"/><path d="M707.4,619.8L712.1,626.4" fill="none" stroke="#1d1d1a" stroke-width="5.4" stroke-linecap="round" stroke-linejoin="round"/></g>
<g id="crusher"><path d="M784,678L803,678L803,711L784,711Z" fill="#b8b8b5"/><path d="M909,678L927.5,678L927.5,711L909,711Z" fill="#b8b8b5"/><path d="M784.1,679L784.1,710M803.1,679L803.1,710M909.2,679L909.2,710M927.5,677L927.5,710" fill="none" stroke="#1d1d1a" stroke-width="5.4" stroke-linecap="round" stroke-linejoin="round"/><path d="M776.5,711.7L939,711.7" fill="none" stroke="#1d1d1a" stroke-width="6" stroke-linecap="round" stroke-linejoin="round"/><path d="M919.4,551.3L932,552Q937.7,553 937.7,559L937.7,667Q937.7,672.5 932,673.5L919.4,676.2Z" fill="#acacaa"/><path d="M925,558L925,669" fill="none" stroke="#d0d0ce" stroke-width="2.4" stroke-linecap="round" stroke-linejoin="round"/><path d="M919.4,551.3L932,552Q937.7,553 937.7,559L937.7,667Q937.7,672.5 932,673.5L919.4,676.2Z" fill="none" stroke="#1d1d1a" stroke-width="5.6" stroke-linecap="round" stroke-linejoin="round"/><path d="M782.5,550.8L915.4,550.8Q919.4,550.8 919.4,554.8L919.4,672.2Q919.4,676.2 915.4,676.2L781.3,676.2Q777.3,676.2 777.3,672.2L777.3,556Q777.3,550.8 782.5,550.8Z" fill="#b8b8b5"/><path d="M784.8,670.5L784.8,558.6L913,558.6" fill="none" stroke="#eeeeec" stroke-width="3.2" stroke-linecap="round" stroke-linejoin="round"/><path d="M782.5,550.8L915.4,550.8Q919.4,550.8 919.4,554.8L919.4,672.2Q919.4,676.2 915.4,676.2L781.3,676.2Q777.3,676.2 777.3,672.2L777.3,556Q777.3,550.8 782.5,550.8Z" fill="none" stroke="#1d1d1a" stroke-width="6.6" stroke-linecap="round" stroke-linejoin="round"/><path d="M809.5,602.1C811.2,600.9 816,596.8 820,595C824,593.2 829.3,591.4 833.6,591.4C837.9,591.4 842.1,593.2 846,595C849.9,596.8 853.6,600.2 857,602C860.4,603.8 863.1,605.7 866.6,605.9C870.1,606.1 874,605.1 878,603C882,600.9 888.6,594.8 890.7,593.2" fill="none" stroke="#1d1d1a" stroke-width="6.2" stroke-linecap="round" stroke-linejoin="round"/><path d="M808.2,630.5C810.2,629.3 815.8,625.3 820,623.5C824.2,621.7 829.3,619.9 833.6,619.8C837.9,619.7 842.1,621.5 846,623C849.9,624.5 853.6,627.1 857,628.5C860.4,629.9 863.1,631 866.6,631.2C870.1,631.4 874.4,630.9 878,629.5C881.6,628.1 886.5,624 888.2,622.9" fill="none" stroke="#1d1d1a" stroke-width="6.2" stroke-linecap="round" stroke-linejoin="round"/><path d="M824,536L884,536L884,550L824,550Z" fill="#d4d4d2"/><path d="M827,538.5L881,538.5L881,543.5L827,543.5Z" fill="#f4f4f2"/><path d="M824,536L824,549.5M883.9,536L883.9,549.5" fill="none" stroke="#1d1d1a" stroke-width="6" stroke-linecap="round" stroke-linejoin="round"/><path d="M799,482.3L907.5,481Q911.5,481 909.7,484.5L883.5,532.5Q882.5,534.2 880,534.2L827.5,534.2Q825.3,534.2 824.2,532.2L796.5,485.8Q794.8,482.3 799,482.3Z" fill="#b8b8b5"/><path d="M803.5,488L828.5,530" fill="none" stroke="#f0f0ee" stroke-width="2.8" stroke-linecap="round" stroke-linejoin="round"/><path d="M799,482.3L907.5,481Q911.5,481 909.7,484.5L883.5,532.5Q882.5,534.2 880,534.2L827.5,534.2Q825.3,534.2 824.2,532.2L796.5,485.8Q794.8,482.3 799,482.3Z" fill="none" stroke="#1d1d1a" stroke-width="6.6" stroke-linecap="round" stroke-linejoin="round"/></g>
<g id="flow"><path d="M958.8,613L1033,612.8" fill="none" stroke="#dd5c55" stroke-width="7" stroke-linecap="round" stroke-linejoin="round"/><path d="M1015.2,600.6L1033,612.8L1016.4,626.6" fill="none" stroke="#dd5c55" stroke-width="6.8" stroke-linecap="round" stroke-linejoin="round"/><path d="M1187,729.5C1185.5,733.2 1182,744.9 1178,752C1174,759.1 1168.3,766.3 1163,772C1157.7,777.7 1151.8,782.2 1146,786C1140.2,789.8 1134.8,792.2 1128,794.5C1121.2,796.8 1112.8,798.9 1105,800C1097.2,801.1 1085.4,800.8 1081.5,801" fill="none" stroke="#dd5c55" stroke-width="6.6" stroke-linecap="round" stroke-linejoin="round"/><path d="M1108,784.5Q1094,792 1080.5,801Q1093,807 1105.5,813.5" fill="none" stroke="#dd5c55" stroke-width="6.4" stroke-linecap="round" stroke-linejoin="round"/></g>
<g id="washer"><path d="M1066.6,712.6L1082.5,712.6M1142.3,712.6L1159.4,712.6" fill="none" stroke="#1d1d1a" stroke-width="5" stroke-linecap="round" stroke-linejoin="round"/><path d="M1064.7,554L1162.6,554Q1172.6,554 1172.6,564L1172.6,697.6Q1172.6,707.6 1162.6,707.6L1064.7,707.6Q1054.7,707.6 1054.7,697.6L1054.7,564Q1054.7,554 1064.7,554Z" fill="#f4f7fa"/><path d="M1066.5,562L1170,562L1170,705L1066.5,705Q1063,705 1063,701.5L1063,565.5Q1063,562 1066.5,562Z" fill="#80aed8"/><path d="M1066.5,562L1170,562L1170,584L1063,584L1063,565.5Q1063,562 1066.5,562Z" fill="#98bee0"/><path d="M1064.7,554L1162.6,554Q1172.6,554 1172.6,564L1172.6,697.6Q1172.6,707.6 1162.6,707.6L1064.7,707.6Q1054.7,707.6 1054.7,697.6L1054.7,564Q1054.7,554 1064.7,554Z" fill="none" stroke="#1d1d1a" stroke-width="6.4" stroke-linecap="round" stroke-linejoin="round"/><path d="M1093,574L1169.5,574" fill="none" stroke="#1d1d1a" stroke-width="5.6" stroke-linecap="round" stroke-linejoin="round"/><path d="M1069,586.2L1169.5,586.2" fill="none" stroke="#1d1d1a" stroke-width="5.6" stroke-linecap="round" stroke-linejoin="round"/><path d="M1085,626C1086.1,625.1 1089.1,621.8 1091.5,620.5C1093.9,619.2 1097,618 1099.6,618C1102.2,618 1104.7,619.5 1107,620.8C1109.3,622.1 1111.3,624.4 1113.5,626C1115.7,627.6 1117.8,629.5 1120.4,630.2C1123,630.9 1126.2,630.8 1129,630C1131.8,629.2 1134.6,627.2 1137,625.5C1139.4,623.8 1142.5,620.7 1143.6,619.7" fill="none" stroke="#1d1d1a" stroke-width="6" stroke-linecap="round" stroke-linejoin="round"/><path d="M1133.6,500.6Q1126.2,510.5 1123.3,518.5Q1121.2,528.6 1130.2,529.2Q1138.6,528.8 1138,518.5Q1137.3,509.5 1133.6,500.6Z" fill="#3f7cc0"/></g>
<g id="extruder"><path d="M1192.8,517.9L1192.8,580L1193,704.5" fill="none" stroke="#1d1d1a" stroke-width="5.8" stroke-linecap="round" stroke-linejoin="round"/><path d="M1319.1,676.2L1319.1,703.3" fill="none" stroke="#1d1d1a" stroke-width="5.6" stroke-linecap="round" stroke-linejoin="round"/><path d="M1352.1,663.8L1402.6,663.8L1402.6,666.7L1381.4,686.5L1401.1,687.2L1401.1,704.8L1343.3,704.8L1334.5,694.5L1352.1,672.6Z" fill="#b8b8b5"/><path d="M1355,657.9L1401.1,657.6L1401.1,662.6L1355,662.6Z" fill="#f2f2f0"/><path d="M1164,485.7L1174.9,471.8L1354.2,687.2L1357.9,701.9L1342.8,704.5Z" fill="#b8b8b5"/><path d="M1170.2,487.2L1349,698.5" fill="none" stroke="#e2e2e0" stroke-width="2.6" stroke-linecap="round" stroke-linejoin="round"/><path d="M1164,485.7L1342.8,704.5" fill="none" stroke="#1d1d1a" stroke-width="6" stroke-linecap="round" stroke-linejoin="round"/><path d="M1174.9,471.8L1354.2,687.2" fill="none" stroke="#1d1d1a" stroke-width="6" stroke-linecap="round" stroke-linejoin="round"/><path d="M1354.2,687.2L1362,678.7L1350.1,668.5L1350.1,653.8L1405.1,653.2L1405.1,665.5L1383.1,686.5L1403,687.2L1403,704.1" fill="none" stroke="#1d1d1a" stroke-width="6" stroke-linecap="round" stroke-linejoin="round"/><path d="M1164,484.9L1146.4,495.6L1129.5,477.6L1166.9,444.7L1183.3,460L1174.9,471.8Z" fill="#b8b8b5"/><path d="M1137.6,476.6L1166.6,452" fill="none" stroke="#efefed" stroke-width="3.4" stroke-linecap="round" stroke-linejoin="round"/><path d="M1164,484.9L1146.4,495.6L1129.5,477.6L1166.9,444.7L1183.3,460L1174.2,470.3" fill="none" stroke="#1d1d1a" stroke-width="6.4" stroke-linecap="round" stroke-linejoin="round"/><path d="M1184,704.3L1337.4,704.5" fill="none" stroke="#1d1d1a" stroke-width="6" stroke-linecap="round" stroke-linejoin="round"/><path d="M1341.8,707.1L1418,706.8" fill="none" stroke="#1d1d1a" stroke-width="6" stroke-linecap="round" stroke-linejoin="round"/></g>
</svg>
<h1 class="title">
  <span class="ln"><span class="w" style="left:150.9px;top:44px;transform:scaleX(1.0000);letter-spacing:3.70px;font-weight:400;-webkit-text-stroke-width:3.6px;font-size:99.9px">What</span> <span class="w" style="left:428.3px;top:40px;transform:scaleX(0.8469)">Is</span> <span class="w" style="left:532.4px;top:40px;transform:scaleX(0.7947)">a</span> <span class="w" style="left:616.5px;top:40px;transform:scaleX(0.8560)">PET</span></span>
  <span class="ln"><span class="w" style="left:146.8px;top:142px;transform:scaleX(1.0000);letter-spacing:3.30px;font-weight:400;-webkit-text-stroke-width:3.6px;font-size:99.9px">Bottle</span> <span class="w" style="left:446.5px;top:142px;transform:scaleX(1.0000);letter-spacing:1.65px;font-weight:400;-webkit-text-stroke-width:3.6px;font-size:99.9px">Recycling</span></span>
  <span class="ln"><span class="w" style="left:149.3px;top:236px;transform:scaleX(0.8090)">Line?</span></span>
</h1>
<p class="sub">
  <span class="ln"><span class="w" style="left:150.1px;top:358px;transform:scaleX(1.0000);letter-spacing:2.40px">Components,</span> <span class="w" style="left:489.7px;top:358px;transform:scaleX(1.0000);letter-spacing:1.42px">Process</span></span>
  <span class="ln"><span class="w" style="left:151.5px;top:417px;transform:scaleX(0.9200)">&amp;</span> <span class="w" style="left:200.8px;top:417px;transform:scaleX(1.0000);letter-spacing:2.51px">Benefits</span> <span class="w" style="left:419.9px;top:417px;transform:scaleX(1.0000);letter-spacing:1.46px">Explained</span></span>
</p>
<h2 class="hc">
  <span class="w" style="left:150.2px;top:530px;transform:scaleX(1.0000);letter-spacing:1.92px">Components</span>
</h2>
<ul class="lc">
  <li><i class="dot" style="left:153.2px;top:632.8px;width:15.8px;height:15.8px"></i><span class="w" style="left:192.6px;top:615px;transform:scaleX(1.0000);letter-spacing:1.44px">Conveyor</span></li>
  <li><i class="dot" style="left:153.2px;top:691.3px;width:15.8px;height:15.8px"></i><span class="w" style="left:192.6px;top:674px;transform:scaleX(1.0000);letter-spacing:1.37px">Crusher</span></li>
  <li><i class="dot" style="left:153.2px;top:748.7px;width:15.8px;height:15.8px"></i><span class="w" style="left:195.4px;top:731px;transform:scaleX(1.0000);letter-spacing:0.61px">Washer</span></li>
  <li><i class="dot" style="left:153.2px;top:806.9px;width:15.8px;height:15.8px"></i><span class="w" style="left:193.4px;top:789px;transform:scaleX(1.0000);letter-spacing:1.90px">Extruder</span></li>
</ul>
<h2 class="hb">
  <span class="w" style="left:150.9px;top:881px;transform:scaleX(1.0000);letter-spacing:4.21px">Benefits</span>
</h2>
<h2 class="hp">
  <span class="w" style="left:814.3px;top:768px;transform:scaleX(1.0000);letter-spacing:1.68px">Process</span>
</h2>
<ul class="lp">
  <li><i class="dot" style="left:816.8px;top:860.9px;width:16px;height:16px"></i><span class="w" style="left:855.2px;top:844px;transform:scaleX(1.0000);letter-spacing:0.29px">Reduces</span> <span class="w" style="left:1072.3px;top:844px;transform:scaleX(0.9964)">waste</span></li>
  <li><i class="dot" style="left:816.8px;top:917.8px;width:16px;height:16px"></i><span class="w" style="left:855.6px;top:901px;transform:scaleX(1.0000);letter-spacing:0.48px">Conserves</span> <span class="w" style="left:1112.3px;top:901px;transform:scaleX(1.0000);letter-spacing:0.33px">ressurces</span></li>
  <li><i class="dot" style="left:816.8px;top:975.8px;width:16px;height:16px"></i><span class="w" style="left:855.2px;top:959px;transform:scaleX(1.0000);letter-spacing:0.25px">Lowers</span> <span class="w" style="left:1031px;top:959px;transform:scaleX(1.0000);letter-spacing:0.03px">emissions</span></li>
</ul>
<div class="labels">
  <span class="hand" id="lb-crush"><span class="w" style="left:806.2px;top:382px;transform:rotate(0.5deg) scaleX(0.8241)">chrushing</span></span>
  <span class="hand" id="lb-wash"><span class="w" style="left:568.2px;top:498px;transform:scaleX(0.8943)">washing</span></span>
  <span class="hand" id="lb-extr"><span class="w" style="left:1235.7px;top:476px;transform:rotate(1deg) scaleX(0.8805)">extruding</span></span>
  <span class="hand" id="lb-pet"><span class="w" style="left:1204.7px;top:333px;transform:scaleX(0.7024)">PET</span> <span class="w" style="left:1298.8px;top:333px;transform:scaleX(0.7616);font-size:57px">bottles</span></span>
</div>
</body>
</html>
